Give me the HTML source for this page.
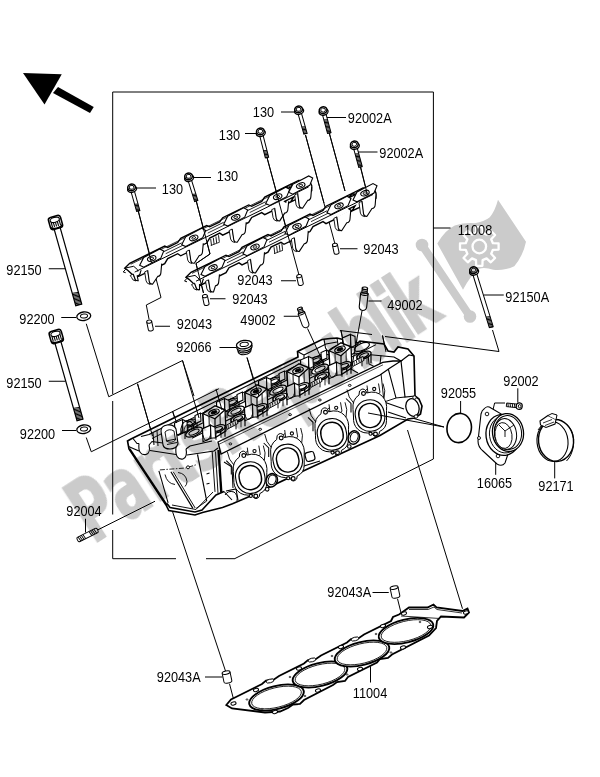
<!DOCTYPE html>
<html><head><meta charset="utf-8"><title>Cylinder Head</title>
<style>
html,body{margin:0;padding:0;background:#fff;}
body{width:600px;height:777px;overflow:hidden;}
svg{display:block;}
svg text{font-family:"Liberation Sans",sans-serif;}
</style></head><body>
<svg width="600" height="777" viewBox="0 0 600 777">
<rect width="600" height="777" fill="#fff"/>
<path d="M23,73 L61.75,74.25 L44.5,104.5 Z" fill="#000"/>
<path d="M58,87 L93.75,107 L90,113 L53,93 Z" fill="#000"/>
<path d="M112.70,92.00 L433.40,92.00" stroke="#000" stroke-width="1" fill="none"/>
<path d="M112.70,92.00 L112.70,394.00" stroke="#000" stroke-width="1" fill="none"/>
<path d="M112.70,401.00 L112.70,514.50" stroke="#000" stroke-width="1" fill="none"/>
<path d="M112.70,530.00 L112.70,558.70" stroke="#000" stroke-width="1" fill="none"/>
<path d="M433.40,92.00 L433.40,459.00" stroke="#000" stroke-width="1" fill="none"/>
<path d="M433.40,459.00 L235.00,558.50" stroke="#000" stroke-width="1" fill="none"/>
<path d="M112.70,558.70 L176.00,558.70" stroke="#000" stroke-width="1" fill="none"/>
<path d="M206.00,558.70 L235.00,558.70" stroke="#000" stroke-width="1" fill="none"/>
<g opacity="0.999">
<text transform="translate(161.80,194.00) scale(0.91,1)" font-size="14">130</text>
<text transform="translate(216.80,181.00) scale(0.91,1)" font-size="14">130</text>
<text transform="translate(218.80,140.00) scale(0.91,1)" font-size="14">130</text>
<text transform="translate(252.80,117.00) scale(0.91,1)" font-size="14">130</text>
<text transform="translate(347.80,122.50) scale(0.91,1)" font-size="14">92002A</text>
<text transform="translate(379.30,157.80) scale(0.91,1)" font-size="14">92002A</text>
<text transform="translate(457.80,234.50) scale(0.91,1)" font-size="14">11008</text>
<text transform="translate(363.30,253.50) scale(0.91,1)" font-size="14">92043</text>
<text transform="translate(237.30,284.50) scale(0.91,1)" font-size="14">92043</text>
<text transform="translate(232.30,303.50) scale(0.91,1)" font-size="14">92043</text>
<text transform="translate(176.80,329.00) scale(0.91,1)" font-size="14">92043</text>
<text transform="translate(240.30,324.50) scale(0.91,1)" font-size="14">49002</text>
<text transform="translate(387.30,309.50) scale(0.91,1)" font-size="14">49002</text>
<text transform="translate(176.30,352.00) scale(0.91,1)" font-size="14">92066</text>
<text transform="translate(6.30,275.00) scale(0.91,1)" font-size="14">92150</text>
<text transform="translate(19.30,323.50) scale(0.91,1)" font-size="14">92200</text>
<text transform="translate(6.30,387.50) scale(0.91,1)" font-size="14">92150</text>
<text transform="translate(19.80,439.00) scale(0.91,1)" font-size="14">92200</text>
<text transform="translate(66.30,516.00) scale(0.91,1)" font-size="14">92004</text>
<text transform="translate(440.80,397.50) scale(0.91,1)" font-size="14">92055</text>
<text transform="translate(503.30,386.00) scale(0.91,1)" font-size="14">92002</text>
<text transform="translate(476.80,488.00) scale(0.91,1)" font-size="14">16065</text>
<text transform="translate(538.30,491.00) scale(0.91,1)" font-size="14">92171</text>
<text transform="translate(505.30,302.00) scale(0.91,1)" font-size="14">92150A</text>
<text transform="translate(156.80,682.00) scale(0.91,1)" font-size="14">92043A</text>
<text transform="translate(327.30,597.00) scale(0.91,1)" font-size="14">92043A</text>
<text transform="translate(352.80,697.50) scale(0.91,1)" font-size="14">11004</text>
</g>
<path d="M281.00,112.00 L294.50,112.00" stroke="#000" stroke-width="1" fill="none"/>
<path d="M326.00,117.50 L346.00,117.50" stroke="#000" stroke-width="1" fill="none"/>
<path d="M357.50,152.00 L377.50,152.00" stroke="#000" stroke-width="1" fill="none"/>
<path d="M433.40,228.00 L450.50,228.00" stroke="#000" stroke-width="1" fill="none"/>
<path d="M340.00,248.75 L357.50,248.75" stroke="#000" stroke-width="1" fill="none"/>
<path d="M281.00,280.75 L296.00,280.75" stroke="#000" stroke-width="1" fill="none"/>
<path d="M210.00,298.75 L225.50,298.75" stroke="#000" stroke-width="1" fill="none"/>
<path d="M155.00,326.25 L170.00,326.25" stroke="#000" stroke-width="1" fill="none"/>
<path d="M283.75,316.25 L298.75,316.25" stroke="#000" stroke-width="1" fill="none"/>
<path d="M219.50,347.50 L236.25,347.50" stroke="#000" stroke-width="1" fill="none"/>
<path d="M48.75,268.75 L65.50,268.75" stroke="#000" stroke-width="1" fill="none"/>
<path d="M61.25,317.50 L76.25,317.50" stroke="#000" stroke-width="1" fill="none"/>
<path d="M48.75,381.25 L65.50,381.25" stroke="#000" stroke-width="1" fill="none"/>
<path d="M62.00,430.50 L76.25,430.50" stroke="#000" stroke-width="1" fill="none"/>
<path d="M85.50,518.75 L85.50,532.50" stroke="#000" stroke-width="1" fill="none"/>
<path d="M460.60,401.00 L460.60,413.80" stroke="#000" stroke-width="1" fill="none"/>
<path d="M517.80,388.30 L517.80,402.50" stroke="#000" stroke-width="1" fill="none"/>
<path d="M495.70,459.70 L495.70,474.80" stroke="#000" stroke-width="1" fill="none"/>
<path d="M554.70,462.00 L554.70,478.40" stroke="#000" stroke-width="1" fill="none"/>
<path d="M483.75,295.00 L503.75,295.00" stroke="#000" stroke-width="1" fill="none"/>
<path d="M205.00,677.00 L222.50,677.00" stroke="#000" stroke-width="1" fill="none"/>
<path d="M372.50,592.50 L388.75,592.50" stroke="#000" stroke-width="1" fill="none"/>
<path d="M370.50,666.25 L370.50,682.50" stroke="#000" stroke-width="1" fill="none"/>
<path d="M138.25,211.00 L161.00,297.50 L146.30,305.00 L149.00,319.00" fill="none" stroke="#000" stroke-width="1.0" />
<path d="M196.25,201.00 L210.00,254.00 L196.00,263.50 L203.50,293.00" fill="none" stroke="#000" stroke-width="1.0" />
<path d="M267.00,157.50 L299.00,275.00" fill="none" stroke="#000" stroke-width="1.0" />
<path d="M305.50,135.00 L335.00,244.00" fill="none" stroke="#000" stroke-width="1.0" />
<path d="M329.25,133.00 L345.00,191.00" fill="none" stroke="#000" stroke-width="1.0" />
<path d="M360.50,167.00 L367.50,195.00" fill="none" stroke="#000" stroke-width="1.0" />
<path d="M86.25,323.75 L108.75,396.75 L182.50,360.50 L194.00,396.00" fill="none" stroke="#000" stroke-width="1.0" />
<path d="M137.50,383.75 L152.50,436.00" fill="none" stroke="#000" stroke-width="1.0" />
<path d="M86.25,437.50 L91.25,451.75 L218.75,388.75" fill="none" stroke="#000" stroke-width="1.0" />
<path d="M172.50,411.00 L176.00,422.50" fill="none" stroke="#000" stroke-width="1.0" />
<path d="M97.50,530.00 L155.00,501.25" fill="none" stroke="#000" stroke-width="1.0" />
<path d="M171.00,507.00 L225.50,671.00" fill="none" stroke="#000" stroke-width="1.0" />
<path d="M229.50,683.75 L233.75,700.00" fill="none" stroke="#000" stroke-width="1.0" />
<path d="M407.50,430.00 L462.50,608.75" fill="none" stroke="#000" stroke-width="1.0" />
<path d="M397.50,598.75 L401.25,613.75" fill="none" stroke="#000" stroke-width="1.0" />
<path d="M492.50,330.00 L499.00,351.50 L385.00,336.50" fill="none" stroke="#000" stroke-width="1.0" />
<path d="M372.00,334.50 L340.00,330.50" fill="none" stroke="#000" stroke-width="1.0" />
<path d="M341.00,330.50 L344.00,346.00" fill="none" stroke="#000" stroke-width="1.0" />
<path d="M382.50,335.50 L386.00,352.00" fill="none" stroke="#000" stroke-width="1.0" />
<path d="M247.00,357.50 L256.25,390.00" fill="none" stroke="#000" stroke-width="1.0" />
<path d="M405.00,416.00 L444.00,427.00" fill="none" stroke="#000" stroke-width="1.0" />
<path d="M505.00,403.00 L494.60,403.00 L491.80,415.00" fill="none" stroke="#000" stroke-width="1.0" />
<g transform="translate(131.75,188.00) rotate(-15.78)" fill="#fff" stroke="#000" stroke-width="1">
<rect x="-1.70" y="2" width="3.40" height="21.90"/>
<path d="M-1.70,16.40 L1.70,17.20" stroke-width="0.9"/>
<path d="M-1.70,17.75 L1.70,18.55" stroke-width="0.9"/>
<path d="M-1.70,19.10 L1.70,19.90" stroke-width="0.9"/>
<path d="M-1.70,20.45 L1.70,21.25" stroke-width="0.9"/>
<path d="M-1.70,21.80 L1.70,22.60" stroke-width="0.9"/>
<path d="M-1.70,23.15 L1.70,23.95" stroke-width="0.9"/>
<ellipse cx="0" cy="1.2" rx="4.6" ry="3.2" stroke-width="1.3"/>
<ellipse cx="0" cy="-0.6" rx="3.9" ry="3.3" stroke-width="1.5"/>
<path d="M-2.2,-1.8 L0,-2.8 L2.2,-1.8 L2.2,0.4 L0,1.4 L-2.2,0.4 Z" stroke-width="0.9"/>
</g>
<g transform="translate(188.75,177.00) rotate(-17.35)" fill="#fff" stroke="#000" stroke-width="1">
<rect x="-1.70" y="2" width="3.40" height="23.14"/>
<path d="M-1.70,17.64 L1.70,18.44" stroke-width="0.9"/>
<path d="M-1.70,18.99 L1.70,19.79" stroke-width="0.9"/>
<path d="M-1.70,20.34 L1.70,21.14" stroke-width="0.9"/>
<path d="M-1.70,21.69 L1.70,22.49" stroke-width="0.9"/>
<path d="M-1.70,23.04 L1.70,23.84" stroke-width="0.9"/>
<path d="M-1.70,24.39 L1.70,25.19" stroke-width="0.9"/>
<ellipse cx="0" cy="1.2" rx="4.6" ry="3.2" stroke-width="1.3"/>
<ellipse cx="0" cy="-0.6" rx="3.9" ry="3.3" stroke-width="1.5"/>
<path d="M-2.2,-1.8 L0,-2.8 L2.2,-1.8 L2.2,0.4 L0,1.4 L-2.2,0.4 Z" stroke-width="0.9"/>
</g>
<g transform="translate(260.50,132.00) rotate(-14.30)" fill="#fff" stroke="#000" stroke-width="1">
<rect x="-1.70" y="2" width="3.40" height="24.32"/>
<path d="M-1.70,18.82 L1.70,19.62" stroke-width="0.9"/>
<path d="M-1.70,20.17 L1.70,20.97" stroke-width="0.9"/>
<path d="M-1.70,21.52 L1.70,22.32" stroke-width="0.9"/>
<path d="M-1.70,22.87 L1.70,23.67" stroke-width="0.9"/>
<path d="M-1.70,24.22 L1.70,25.02" stroke-width="0.9"/>
<path d="M-1.70,25.57 L1.70,26.37" stroke-width="0.9"/>
<ellipse cx="0" cy="1.2" rx="4.6" ry="3.2" stroke-width="1.3"/>
<ellipse cx="0" cy="-0.6" rx="3.9" ry="3.3" stroke-width="1.5"/>
<path d="M-2.2,-1.8 L0,-2.8 L2.2,-1.8 L2.2,0.4 L0,1.4 L-2.2,0.4 Z" stroke-width="0.9"/>
</g>
<g transform="translate(298.75,110.00) rotate(-15.87)" fill="#fff" stroke="#000" stroke-width="1">
<rect x="-1.70" y="2" width="3.40" height="22.69"/>
<path d="M-1.70,17.19 L1.70,17.99" stroke-width="0.9"/>
<path d="M-1.70,18.54 L1.70,19.34" stroke-width="0.9"/>
<path d="M-1.70,19.89 L1.70,20.69" stroke-width="0.9"/>
<path d="M-1.70,21.24 L1.70,22.04" stroke-width="0.9"/>
<path d="M-1.70,22.59 L1.70,23.39" stroke-width="0.9"/>
<path d="M-1.70,23.94 L1.70,24.74" stroke-width="0.9"/>
<ellipse cx="0" cy="1.2" rx="4.6" ry="3.2" stroke-width="1.3"/>
<ellipse cx="0" cy="-0.6" rx="3.9" ry="3.3" stroke-width="1.5"/>
<path d="M-2.2,-1.8 L0,-2.8 L2.2,-1.8 L2.2,0.4 L0,1.4 L-2.2,0.4 Z" stroke-width="0.9"/>
</g>
<g transform="translate(323.25,110.75) rotate(-15.09)" fill="#fff" stroke="#000" stroke-width="1">
<rect x="-1.80" y="2" width="3.60" height="21.04"/>
<path d="M-1.80,9.04 L1.80,9.84" stroke-width="0.9"/>
<path d="M-1.80,10.39 L1.80,11.19" stroke-width="0.9"/>
<path d="M-1.80,11.74 L1.80,12.54" stroke-width="0.9"/>
<path d="M-1.80,13.09 L1.80,13.89" stroke-width="0.9"/>
<path d="M-1.80,14.44 L1.80,15.24" stroke-width="0.9"/>
<path d="M-1.80,15.79 L1.80,16.59" stroke-width="0.9"/>
<path d="M-1.80,17.14 L1.80,17.94" stroke-width="0.9"/>
<path d="M-1.80,18.49 L1.80,19.29" stroke-width="0.9"/>
<path d="M-1.80,19.84 L1.80,20.64" stroke-width="0.9"/>
<path d="M-1.80,21.19 L1.80,21.99" stroke-width="0.9"/>
<path d="M-1.80,22.54 L1.80,23.34" stroke-width="0.9"/>
<ellipse cx="0" cy="1.2" rx="4.6" ry="3.2" stroke-width="1.3"/>
<ellipse cx="0" cy="-0.6" rx="3.9" ry="3.3" stroke-width="1.5"/>
<path d="M-2.2,-1.8 L0,-2.8 L2.2,-1.8 L2.2,0.4 L0,1.4 L-2.2,0.4 Z" stroke-width="0.9"/>
</g>
<g transform="translate(354.50,145.00) rotate(-15.26)" fill="#fff" stroke="#000" stroke-width="1">
<rect x="-1.80" y="2" width="3.60" height="20.80"/>
<path d="M-1.80,8.80 L1.80,9.60" stroke-width="0.9"/>
<path d="M-1.80,10.15 L1.80,10.95" stroke-width="0.9"/>
<path d="M-1.80,11.50 L1.80,12.30" stroke-width="0.9"/>
<path d="M-1.80,12.85 L1.80,13.65" stroke-width="0.9"/>
<path d="M-1.80,14.20 L1.80,15.00" stroke-width="0.9"/>
<path d="M-1.80,15.55 L1.80,16.35" stroke-width="0.9"/>
<path d="M-1.80,16.90 L1.80,17.70" stroke-width="0.9"/>
<path d="M-1.80,18.25 L1.80,19.05" stroke-width="0.9"/>
<path d="M-1.80,19.60 L1.80,20.40" stroke-width="0.9"/>
<path d="M-1.80,20.95 L1.80,21.75" stroke-width="0.9"/>
<path d="M-1.80,22.30 L1.80,23.10" stroke-width="0.9"/>
<ellipse cx="0" cy="1.2" rx="4.6" ry="3.2" stroke-width="1.3"/>
<ellipse cx="0" cy="-0.6" rx="3.9" ry="3.3" stroke-width="1.5"/>
<path d="M-2.2,-1.8 L0,-2.8 L2.2,-1.8 L2.2,0.4 L0,1.4 L-2.2,0.4 Z" stroke-width="0.9"/>
</g>
<g transform="translate(55.50,222.50) rotate(-15.74)" fill="#fff" stroke="#000" stroke-width="1.2">
<rect x="-3.10" y="5.75" width="6.20" height="79.96"/>
<path d="M-3.10,72.71 L3.10,73.51" stroke-width="0.9"/>
<path d="M-3.10,74.06 L3.10,74.86" stroke-width="0.9"/>
<path d="M-3.10,75.41 L3.10,76.21" stroke-width="0.9"/>
<path d="M-3.10,76.76 L3.10,77.56" stroke-width="0.9"/>
<path d="M-3.10,78.11 L3.10,78.91" stroke-width="0.9"/>
<path d="M-3.10,79.46 L3.10,80.26" stroke-width="0.9"/>
<path d="M-3.10,80.81 L3.10,81.61" stroke-width="0.9"/>
<path d="M-3.10,82.16 L3.10,82.96" stroke-width="0.9"/>
<path d="M-3.10,83.51 L3.10,84.31" stroke-width="0.9"/>
<path d="M-3.10,84.86 L3.10,85.66" stroke-width="0.9"/>
<rect x="-6.25" y="-6.25" width="12.50" height="12.50" rx="2.75" stroke-width="1.56"/>
<path d="M-4.17,-1.25 L-4.17,4.00" stroke-width="1.08"/>
<path d="M-2.08,-1.25 L-2.08,4.00" stroke-width="1.08"/>
<path d="M0.00,-1.25 L0.00,4.00" stroke-width="1.08"/>
<path d="M2.08,-1.25 L2.08,4.00" stroke-width="1.08"/>
<path d="M4.17,-1.25 L4.17,4.00" stroke-width="1.08"/>
<ellipse cx="0" cy="-2.75" rx="4.75" ry="2.50" stroke-width="1.2"/>
<path d="M-6.25,3.75 Q0,7.75 6.25,3.75" fill="none" stroke-width="1.44"/>
</g>
<g transform="translate(56.25,336.50) rotate(-15.88)" fill="#fff" stroke="#000" stroke-width="1.2">
<rect x="-3.10" y="5.75" width="6.20" height="81.06"/>
<path d="M-3.10,73.81 L3.10,74.61" stroke-width="0.9"/>
<path d="M-3.10,75.16 L3.10,75.96" stroke-width="0.9"/>
<path d="M-3.10,76.51 L3.10,77.31" stroke-width="0.9"/>
<path d="M-3.10,77.86 L3.10,78.66" stroke-width="0.9"/>
<path d="M-3.10,79.21 L3.10,80.01" stroke-width="0.9"/>
<path d="M-3.10,80.56 L3.10,81.36" stroke-width="0.9"/>
<path d="M-3.10,81.91 L3.10,82.71" stroke-width="0.9"/>
<path d="M-3.10,83.26 L3.10,84.06" stroke-width="0.9"/>
<path d="M-3.10,84.61 L3.10,85.41" stroke-width="0.9"/>
<path d="M-3.10,85.96 L3.10,86.76" stroke-width="0.9"/>
<rect x="-6.25" y="-6.25" width="12.50" height="12.50" rx="2.75" stroke-width="1.56"/>
<path d="M-4.17,-1.25 L-4.17,4.00" stroke-width="1.08"/>
<path d="M-2.08,-1.25 L-2.08,4.00" stroke-width="1.08"/>
<path d="M0.00,-1.25 L0.00,4.00" stroke-width="1.08"/>
<path d="M2.08,-1.25 L2.08,4.00" stroke-width="1.08"/>
<path d="M4.17,-1.25 L4.17,4.00" stroke-width="1.08"/>
<ellipse cx="0" cy="-2.75" rx="4.75" ry="2.50" stroke-width="1.2"/>
<path d="M-6.25,3.75 Q0,7.75 6.25,3.75" fill="none" stroke-width="1.44"/>
</g>
<g transform="translate(473.75,270.75) rotate(-17.28)" fill="#fff" stroke="#000" stroke-width="1">
<rect x="-2.00" y="2" width="4.00" height="56.91"/>
<path d="M-2.00,47.91 L2.00,48.71" stroke-width="0.9"/>
<path d="M-2.00,49.26 L2.00,50.06" stroke-width="0.9"/>
<path d="M-2.00,50.61 L2.00,51.41" stroke-width="0.9"/>
<path d="M-2.00,51.96 L2.00,52.76" stroke-width="0.9"/>
<path d="M-2.00,53.31 L2.00,54.11" stroke-width="0.9"/>
<path d="M-2.00,54.66 L2.00,55.46" stroke-width="0.9"/>
<path d="M-2.00,56.01 L2.00,56.81" stroke-width="0.9"/>
<path d="M-2.00,57.36 L2.00,58.16" stroke-width="0.9"/>
<path d="M-2.00,58.71 L2.00,59.51" stroke-width="0.9"/>
<ellipse cx="0" cy="1.2" rx="4.6" ry="3.2" stroke-width="1.3"/>
<ellipse cx="0" cy="-0.6" rx="3.9" ry="3.3" stroke-width="1.5"/>
<path d="M-2.2,-1.8 L0,-2.8 L2.2,-1.8 L2.2,0.4 L0,1.4 L-2.2,0.4 Z" stroke-width="0.9"/>
</g>
<g transform="translate(335.75,248.75) rotate(-12)" fill="#fff" stroke="#000" stroke-width="1">
<path d="M-2.5,-4.0 L-2.5,4.0 A2.5,1.6 0 0 0 2.5,4.0 L2.5,-4.0"/>
<ellipse cx="0" cy="-4.0" rx="2.5" ry="1.6"/>
</g>
<g transform="translate(300.00,280.00) rotate(-12)" fill="#fff" stroke="#000" stroke-width="1">
<path d="M-2.5,-4.0 L-2.5,4.0 A2.5,1.6 0 0 0 2.5,4.0 L2.5,-4.0"/>
<ellipse cx="0" cy="-4.0" rx="2.5" ry="1.6"/>
</g>
<g transform="translate(205.75,300.00) rotate(-12)" fill="#fff" stroke="#000" stroke-width="1">
<path d="M-2.5,-4.0 L-2.5,4.0 A2.5,1.6 0 0 0 2.5,4.0 L2.5,-4.0"/>
<ellipse cx="0" cy="-4.0" rx="2.5" ry="1.6"/>
</g>
<g transform="translate(150.00,325.50) rotate(-12)" fill="#fff" stroke="#000" stroke-width="1">
<path d="M-2.5,-4.0 L-2.5,4.0 A2.5,1.6 0 0 0 2.5,4.0 L2.5,-4.0"/>
<ellipse cx="0" cy="-4.0" rx="2.5" ry="1.6"/>
</g>
<g transform="translate(227.00,677.00) rotate(-12)" fill="#fff" stroke="#000" stroke-width="1">
<path d="M-4.0,-4.5 L-4.0,4.5 A4.0,1.6 0 0 0 4.0,4.5 L4.0,-4.5"/>
<ellipse cx="0" cy="-4.5" rx="4.0" ry="1.6"/>
</g>
<g transform="translate(395.00,592.00) rotate(-12)" fill="#fff" stroke="#000" stroke-width="1">
<path d="M-4.0,-4.5 L-4.0,4.5 A4.0,1.6 0 0 0 4.0,4.5 L4.0,-4.5"/>
<ellipse cx="0" cy="-4.5" rx="4.0" ry="1.6"/>
</g>
<g transform="translate(83.75,316.25) rotate(-8)" fill="#fff" stroke="#000"><ellipse rx="7" ry="4.3" stroke-width="1.3"/><ellipse rx="3.6" ry="2" cx="0.3" cy="-0.2" stroke-width="1"/></g>
<g transform="translate(83.75,429.25) rotate(-8)" fill="#fff" stroke="#000"><ellipse rx="7" ry="4.3" stroke-width="1.3"/><ellipse rx="3.6" ry="2" cx="0.3" cy="-0.2" stroke-width="1"/></g>
<g transform="translate(77.5,540) rotate(-26.5)" fill="#fff" stroke="#000"><rect x="0" y="-2.5" width="22.5" height="5" rx="1.5"/>
<path d="M1.8,-2.5 l0.8,5 M14.0,-2.5 l0.8,5" stroke-width="0.9"/>
<path d="M3.6,-2.5 l0.8,5 M15.8,-2.5 l0.8,5" stroke-width="0.9"/>
<path d="M5.4,-2.5 l0.8,5 M17.6,-2.5 l0.8,5" stroke-width="0.9"/>
<path d="M7.2,-2.5 l0.8,5 M19.4,-2.5 l0.8,5" stroke-width="0.9"/>
</g>
<path d="M136.50,188.00 L156.00,188.00" stroke="#000" stroke-width="1" fill="none"/>
<path d="M194.00,177.50 L211.00,177.50" stroke="#000" stroke-width="1" fill="none"/>
<path d="M245.00,133.50 L256.00,133.50" stroke="#000" stroke-width="1" fill="none"/>
<path d="M210.70,239.06 L211.50,245.56" fill="none" stroke="#000" stroke-width="0.9" />
<path d="M213.30,237.79 L214.10,244.29" fill="none" stroke="#000" stroke-width="0.9" />
<path d="M215.90,236.51 L216.70,243.01" fill="none" stroke="#000" stroke-width="0.9" />
<path d="M218.50,235.24 L219.30,241.74" fill="none" stroke="#000" stroke-width="0.9" />
<path d="M210.70,245.56 L219.70,242.15" fill="none" stroke="#000" stroke-width="0.8" />
<path d="M124.70,268.20 L129.70,263.25 L164.70,246.10 L167.70,247.43 L177.70,242.53 L180.70,238.26 L206.70,225.52 L209.70,226.85 L219.70,221.95 L222.70,217.68 L248.70,204.94 L251.70,206.27 L261.70,201.37 L264.70,197.10 L290.70,184.36 L293.70,185.69 L284.70,190.10 L287.70,185.83 L298.70,180.34 L309.70,181.05 L311.70,185.57 L311.70,190.57 L307.70,194.03 L287.70,203.33 L284.70,201.30 L293.70,196.89 L290.70,201.86 L264.70,214.60 L261.70,212.57 L251.70,217.47 L248.70,222.44 L222.70,235.18 L219.70,233.15 L209.70,238.05 L206.70,243.02 L180.70,255.76 L177.70,253.73 L167.70,258.63 L164.70,263.60 L138.70,276.34 L133.70,275.79 L127.70,270.23Z" fill="#fff" stroke="#000" stroke-width="1.4" />
<path d="M130.70,264.26 L297.70,182.43" fill="none" stroke="#000" stroke-width="0.8" />
<path d="M134.70,272.10 L308.70,186.84" fill="none" stroke="#000" stroke-width="1.0" />
<path d="M163.70,251.69 L181.70,242.87" fill="none" stroke="#000" stroke-width="0.9" />
<path d="M165.70,253.71 L183.70,244.89" fill="none" stroke="#000" stroke-width="0.8" />
<path d="M205.70,231.11 L223.70,222.29" fill="none" stroke="#000" stroke-width="0.9" />
<path d="M207.70,233.13 L225.70,224.31" fill="none" stroke="#000" stroke-width="0.8" />
<path d="M247.70,210.53 L265.70,201.71" fill="none" stroke="#000" stroke-width="0.9" />
<path d="M249.70,212.55 L267.70,203.73" fill="none" stroke="#000" stroke-width="0.8" />
<path d="M124.70,268.20 L133.70,266.29 L137.70,269.83 L138.70,275.34" fill="none" stroke="#000" stroke-width="1.0" />
<path d="M125.70,269.21 L123.20,271.94 L125.70,272.71" fill="none" stroke="#000" stroke-width="1.0" />
<path d="M139.70,265.35 L143.70,257.39 L159.70,248.95 L163.70,251.09 L160.70,258.36 L143.70,267.19Z" fill="#fff" stroke="#000" stroke-width="1.1" />
<ellipse cx="151.7" cy="258.5" rx="4.4" ry="2.5" transform="rotate(-20 151.7 258.5)" fill="#fff" stroke="#000" stroke-width="1.1"/>
<ellipse cx="151.7" cy="258.5" rx="2.0" ry="1.1" transform="rotate(-20 151.7 258.5)" fill="#fff" stroke="#000" stroke-width="0.9"/>
<path d="M181.70,244.77 L185.70,236.81 L201.70,228.37 L205.70,230.51 L202.70,237.78 L185.70,246.61Z" fill="#fff" stroke="#000" stroke-width="1.1" />
<ellipse cx="193.7" cy="237.9" rx="4.4" ry="2.5" transform="rotate(-20 193.7 237.9)" fill="#fff" stroke="#000" stroke-width="1.1"/>
<ellipse cx="193.7" cy="237.9" rx="2.0" ry="1.1" transform="rotate(-20 193.7 237.9)" fill="#fff" stroke="#000" stroke-width="0.9"/>
<path d="M223.70,224.19 L227.70,216.23 L243.70,207.79 L247.70,209.93 L244.70,217.20 L227.70,226.03Z" fill="#fff" stroke="#000" stroke-width="1.1" />
<ellipse cx="235.7" cy="217.3" rx="4.4" ry="2.5" transform="rotate(-20 235.7 217.3)" fill="#fff" stroke="#000" stroke-width="1.1"/>
<ellipse cx="235.7" cy="217.3" rx="2.0" ry="1.1" transform="rotate(-20 235.7 217.3)" fill="#fff" stroke="#000" stroke-width="0.9"/>
<path d="M265.70,203.61 L269.70,195.65 L285.70,187.21 L289.70,189.35 L286.70,196.62 L269.70,205.45Z" fill="#fff" stroke="#000" stroke-width="1.1" />
<ellipse cx="277.7" cy="196.7" rx="4.4" ry="2.5" transform="rotate(-20 277.7 196.7)" fill="#fff" stroke="#000" stroke-width="1.1"/>
<ellipse cx="277.7" cy="196.7" rx="2.0" ry="1.1" transform="rotate(-20 277.7 196.7)" fill="#fff" stroke="#000" stroke-width="0.9"/>
<path d="M288.70,192.34 L292.70,184.38 L308.70,175.94 L312.70,178.08 L309.70,185.35 L292.70,194.18Z" fill="#fff" stroke="#000" stroke-width="1.1" />
<ellipse cx="300.7" cy="185.5" rx="4.4" ry="2.5" transform="rotate(-20 300.7 185.5)" fill="#fff" stroke="#000" stroke-width="1.1"/>
<ellipse cx="300.7" cy="185.5" rx="2.0" ry="1.1" transform="rotate(-20 300.7 185.5)" fill="#fff" stroke="#000" stroke-width="0.9"/>
<path d="M130.2,275.5 L131.6,277.5 Q132.2,280.5 135.7,281.0 L133.2,274.0 Z" fill="#fff" stroke="#000" stroke-width="0.9"/>
<path d="M133.2,274.0 L134.7,278.0 Q135.2,281.0 138.2,280.7 L137.2,275.9 Q140.2,275.6 140.4,272.1 L141.2,270.1" fill="#fff" stroke="#000" stroke-width="1.1"/>
<path d="M144.7,271.9 L146.1,280.9 Q146.7,283.9 150.2,284.4 L147.7,270.4 Z" fill="#fff" stroke="#000" stroke-width="0.9"/>
<path d="M147.7,270.4 L149.2,281.4 Q149.7,284.4 152.7,284.1 L157.7,276.4 Q160.7,276.1 160.9,272.6 L161.7,263.6" fill="#fff" stroke="#000" stroke-width="1.1"/>
<path d="M186.3,251.5 L187.7,260.0 Q188.3,263.0 191.8,263.5 L189.3,250.0 Z" fill="#fff" stroke="#000" stroke-width="0.9"/>
<path d="M189.3,250.0 L190.8,260.5 Q191.3,263.5 194.3,263.2 L199.3,255.5 Q202.3,255.2 202.5,251.7 L203.3,243.2" fill="#fff" stroke="#000" stroke-width="1.1"/>
<path d="M229.2,230.5 L230.6,239.0 Q231.2,242.0 234.7,242.5 L232.2,229.0 Z" fill="#fff" stroke="#000" stroke-width="0.9"/>
<path d="M232.2,229.0 L233.7,239.5 Q234.2,242.5 237.2,242.2 L242.2,234.5 Q245.2,234.2 245.4,230.7 L246.2,222.2" fill="#fff" stroke="#000" stroke-width="1.1"/>
<path d="M271.7,209.7 L273.1,217.7 Q273.7,220.7 277.2,221.2 L274.7,208.2 Z" fill="#fff" stroke="#000" stroke-width="0.9"/>
<path d="M274.7,208.2 L276.2,218.2 Q276.7,221.2 279.7,220.9 L284.7,213.1 Q287.7,212.8 287.9,209.3 L288.7,201.3" fill="#fff" stroke="#000" stroke-width="1.1"/>
<path d="M294.7,194.9 L296.1,204.9 Q296.7,207.9 300.2,208.4 L297.7,193.4 Z" fill="#fff" stroke="#000" stroke-width="0.9"/>
<path d="M297.7,193.4 L299.2,205.4 Q299.7,208.4 302.7,208.1 L307.7,200.4 Q310.7,200.1 310.9,196.6 L311.7,186.6" fill="#fff" stroke="#000" stroke-width="1.1"/>
<path d="M274.00,247.18 L274.80,253.68" fill="none" stroke="#000" stroke-width="0.9" />
<path d="M276.60,245.91 L277.40,252.41" fill="none" stroke="#000" stroke-width="0.9" />
<path d="M279.20,244.63 L280.00,251.13" fill="none" stroke="#000" stroke-width="0.9" />
<path d="M281.80,243.36 L282.60,249.86" fill="none" stroke="#000" stroke-width="0.9" />
<path d="M274.00,253.68 L283.00,250.27" fill="none" stroke="#000" stroke-width="0.8" />
<path d="M186.00,277.30 L191.00,272.35 L226.00,255.20 L229.00,256.53 L239.00,251.63 L242.00,247.36 L268.00,234.62 L271.00,235.95 L281.00,231.05 L284.00,226.78 L310.00,214.04 L313.00,215.37 L323.00,210.47 L326.00,206.20 L352.00,193.46 L355.00,194.79 L349.00,197.73 L352.00,193.46 L363.00,187.97 L374.00,188.68 L376.00,193.20 L376.00,198.20 L372.00,201.66 L352.00,210.96 L349.00,208.93 L355.00,205.99 L352.00,210.96 L326.00,223.70 L323.00,221.67 L313.00,226.57 L310.00,231.54 L284.00,244.28 L281.00,242.25 L271.00,247.15 L268.00,252.12 L242.00,264.86 L239.00,262.83 L229.00,267.73 L226.00,272.70 L200.00,285.44 L195.00,284.89 L189.00,279.33Z" fill="#fff" stroke="#000" stroke-width="1.4" />
<path d="M192.00,273.36 L362.00,190.06" fill="none" stroke="#000" stroke-width="0.8" />
<path d="M196.00,281.20 L373.00,194.47" fill="none" stroke="#000" stroke-width="1.0" />
<path d="M225.00,260.79 L243.00,251.97" fill="none" stroke="#000" stroke-width="0.9" />
<path d="M227.00,262.81 L245.00,253.99" fill="none" stroke="#000" stroke-width="0.8" />
<path d="M267.00,240.21 L285.00,231.39" fill="none" stroke="#000" stroke-width="0.9" />
<path d="M269.00,242.23 L287.00,233.41" fill="none" stroke="#000" stroke-width="0.8" />
<path d="M309.00,219.63 L327.00,210.81" fill="none" stroke="#000" stroke-width="0.9" />
<path d="M311.00,221.65 L329.00,212.83" fill="none" stroke="#000" stroke-width="0.8" />
<path d="M186.00,277.30 L195.00,275.39 L199.00,278.93 L200.00,284.44" fill="none" stroke="#000" stroke-width="1.0" />
<path d="M187.00,278.31 L184.50,281.04 L187.00,281.81" fill="none" stroke="#000" stroke-width="1.0" />
<path d="M201.00,274.45 L205.00,266.49 L221.00,258.05 L225.00,260.19 L222.00,267.46 L205.00,276.29Z" fill="#fff" stroke="#000" stroke-width="1.1" />
<ellipse cx="213.0" cy="267.6" rx="4.4" ry="2.5" transform="rotate(-20 213.0 267.6)" fill="#fff" stroke="#000" stroke-width="1.1"/>
<ellipse cx="213.0" cy="267.6" rx="2.0" ry="1.1" transform="rotate(-20 213.0 267.6)" fill="#fff" stroke="#000" stroke-width="0.9"/>
<path d="M243.00,253.87 L247.00,245.91 L263.00,237.47 L267.00,239.61 L264.00,246.88 L247.00,255.71Z" fill="#fff" stroke="#000" stroke-width="1.1" />
<ellipse cx="255.0" cy="247.0" rx="4.4" ry="2.5" transform="rotate(-20 255.0 247.0)" fill="#fff" stroke="#000" stroke-width="1.1"/>
<ellipse cx="255.0" cy="247.0" rx="2.0" ry="1.1" transform="rotate(-20 255.0 247.0)" fill="#fff" stroke="#000" stroke-width="0.9"/>
<path d="M285.00,233.29 L289.00,225.33 L305.00,216.89 L309.00,219.03 L306.00,226.30 L289.00,235.13Z" fill="#fff" stroke="#000" stroke-width="1.1" />
<ellipse cx="297.0" cy="226.4" rx="4.4" ry="2.5" transform="rotate(-20 297.0 226.4)" fill="#fff" stroke="#000" stroke-width="1.1"/>
<ellipse cx="297.0" cy="226.4" rx="2.0" ry="1.1" transform="rotate(-20 297.0 226.4)" fill="#fff" stroke="#000" stroke-width="0.9"/>
<path d="M327.00,212.71 L331.00,204.75 L347.00,196.31 L351.00,198.45 L348.00,205.72 L331.00,214.55Z" fill="#fff" stroke="#000" stroke-width="1.1" />
<ellipse cx="339.0" cy="205.8" rx="4.4" ry="2.5" transform="rotate(-20 339.0 205.8)" fill="#fff" stroke="#000" stroke-width="1.1"/>
<ellipse cx="339.0" cy="205.8" rx="2.0" ry="1.1" transform="rotate(-20 339.0 205.8)" fill="#fff" stroke="#000" stroke-width="0.9"/>
<path d="M353.00,199.97 L357.00,192.01 L373.00,183.57 L377.00,185.71 L374.00,192.98 L357.00,201.81Z" fill="#fff" stroke="#000" stroke-width="1.1" />
<ellipse cx="365.0" cy="193.1" rx="4.4" ry="2.5" transform="rotate(-20 365.0 193.1)" fill="#fff" stroke="#000" stroke-width="1.1"/>
<ellipse cx="365.0" cy="193.1" rx="2.0" ry="1.1" transform="rotate(-20 365.0 193.1)" fill="#fff" stroke="#000" stroke-width="0.9"/>
<path d="M191.5,284.6 L192.9,286.6 Q193.5,289.6 197.0,290.1 L194.5,283.1 Z" fill="#fff" stroke="#000" stroke-width="0.9"/>
<path d="M194.5,283.1 L196.0,287.1 Q196.5,290.1 199.5,289.8 L199.5,284.5 Q202.5,284.2 202.7,280.7 L203.5,278.7" fill="#fff" stroke="#000" stroke-width="1.1"/>
<path d="M205.5,281.3 L206.9,288.8 Q207.5,291.8 211.0,292.3 L208.5,279.8 Z" fill="#fff" stroke="#000" stroke-width="0.9"/>
<path d="M208.5,279.8 L210.0,289.3 Q210.5,292.3 213.5,292.0 L215.5,285.7 Q218.5,285.4 218.7,281.9 L219.5,274.4" fill="#fff" stroke="#000" stroke-width="1.1"/>
<path d="M247.5,260.7 L248.9,269.7 Q249.5,272.7 253.0,273.2 L250.5,259.2 Z" fill="#fff" stroke="#000" stroke-width="0.9"/>
<path d="M250.5,259.2 L252.0,270.2 Q252.5,273.2 255.5,272.9 L260.5,265.1 Q263.5,264.8 263.7,261.3 L264.5,252.3" fill="#fff" stroke="#000" stroke-width="1.1"/>
<path d="M291.3,239.2 L292.7,248.2 Q293.3,251.2 296.8,251.7 L294.3,237.7 Z" fill="#fff" stroke="#000" stroke-width="0.9"/>
<path d="M294.3,237.7 L295.8,248.7 Q296.3,251.7 299.3,251.4 L304.3,243.7 Q307.3,243.4 307.5,239.9 L308.3,230.9" fill="#fff" stroke="#000" stroke-width="1.1"/>
<path d="M333.8,218.4 L335.2,227.4 Q335.8,230.4 339.3,230.9 L336.8,216.9 Z" fill="#fff" stroke="#000" stroke-width="0.9"/>
<path d="M336.8,216.9 L338.3,227.9 Q338.8,230.9 341.8,230.6 L346.8,222.8 Q349.8,222.5 350.0,219.0 L350.8,210.0" fill="#fff" stroke="#000" stroke-width="1.1"/>
<path d="M359.0,202.6 L360.4,213.1 Q361.0,216.1 364.5,216.6 L362.0,201.1 Z" fill="#fff" stroke="#000" stroke-width="0.9"/>
<path d="M362.0,201.1 L363.5,213.6 Q364.0,216.6 367.0,216.3 L372.0,208.5 Q375.0,208.2 375.2,204.7 L376.0,194.2" fill="#fff" stroke="#000" stroke-width="1.1"/>
<path d="M138.25,211.00 L151.50,263.00" fill="none" stroke="#000" stroke-width="1.0" />
<path d="M196.25,201.00 L210.00,254.00 L196.00,263.50 L203.50,293.00" fill="none" stroke="#000" stroke-width="1.0" />
<path d="M267.00,157.50 L290.00,243.00" fill="none" stroke="#000" stroke-width="1.0" />
<path d="M305.50,135.00 L324.00,203.00" fill="none" stroke="#000" stroke-width="1.0" />
<path d="M329.25,133.00 L345.00,191.00" fill="none" stroke="#000" stroke-width="1.0" />
<path d="M360.50,167.00 L367.50,195.00" fill="none" stroke="#000" stroke-width="1.0" />
<path d="M127.50,441.00 L131.00,439.00 L298.00,357.00 L297.50,351.50 L322.00,339.50 L330.00,338.50 L337.00,338.00 L358.00,343.00 L360.00,341.00 L384.00,344.00 L388.00,351.00 L394.00,352.00 L398.00,347.00 L408.00,349.00 L414.00,356.00 L415.00,396.00 L419.00,399.00 L422.00,406.00 L420.50,414.00 L415.00,418.00 L408.00,419.00 L380.00,435.50 L300.00,472.50 L250.00,496.30 L232.50,503.80 L222.50,507.50 L202.50,512.50 L195.00,515.00 L168.80,510.50 L166.00,505.00 L129.00,449.00Z" fill="#fff" stroke="#000" stroke-width="1.65" />
<path d="M167.00,503.50 L170.00,507.50 L195.00,512.00 L202.00,510.00 L216.00,495.00 L224.00,491.50" fill="none" stroke="#000" stroke-width="1.53" />
<path d="M172.00,505.00 L196.00,509.50 L213.00,492.00" fill="none" stroke="#000" stroke-width="0.94" />
<path d="M224.00,491.50 L232.00,500.00" fill="none" stroke="#000" stroke-width="1.06" />
<path d="M129.60,448.80 L167.20,505.60" fill="none" stroke="#000" stroke-width="1.77" />
<path d="M158.90,470.80 L168.10,502.90" fill="none" stroke="#000" stroke-width="1.06" />
<path d="M170.90,471.70 L192.90,508.40" fill="none" stroke="#000" stroke-width="1.18" />
<path d="M173.20,471.70 L195.20,508.00" fill="none" stroke="#000" stroke-width="0.94" />
<path d="M159.90,469.90 L185.60,468.00 L197.00,464.50" fill="none" stroke="#000" stroke-width="0.83" stroke-dasharray="5 1.5 1.5 1.5"/>
<ellipse cx="188.0" cy="467.3" rx="1.5" ry="1.5" transform="rotate(0 188.0 467.3)" fill="#fff" stroke="#000" stroke-width="0.94"/>
<path d="M165,474.5 q2,9 10,10 M178,472.5 q8,1 9,9 q0,3 -2,5" fill="none" stroke="#000" stroke-width="0.9"/>
<path d="M197.50,454.30 L206.70,501.00" fill="none" stroke="#000" stroke-width="1.18" />
<path d="M212.20,451.50 L215.00,491.90" fill="none" stroke="#000" stroke-width="0.94" />
<path d="M206.50,473.90 L209.50,473.10" fill="none" stroke="#000" stroke-width="1.06" />
<path d="M206.50,484.00 L209.50,483.20" fill="none" stroke="#000" stroke-width="1.06" />
<path d="M206.70,501.00 L196.00,508.50" fill="none" stroke="#000" stroke-width="0.94" />
<path d="M128.50,446.50 L139.00,451.00" fill="none" stroke="#000" stroke-width="1.18" />
<path d="M139,443.5 C138,452 141,455.5 146,454.5 C149.5,453.5 150,449 149,445" fill="#fff" stroke="#000" stroke-width="1.1"/>
<path d="M150.00,450.50 L176.00,454.50" fill="none" stroke="#000" stroke-width="1.18" />
<path d="M176,447 C175,456 178,460 183,459 C186.5,458 187,453 186,449" fill="#fff" stroke="#000" stroke-width="1.1"/>
<path d="M187.00,455.00 L214.00,451.00 L218.00,448.00" fill="none" stroke="#000" stroke-width="1.18" />
<path d="M133.00,438.50 L137.00,443.50 L139.00,443.50" fill="none" stroke="#000" stroke-width="1.06" />
<path d="M149.00,445.00 L152.00,441.50 L170.00,444.00 L176.00,447.00" fill="none" stroke="#000" stroke-width="1.06" />
<path d="M186.00,449.00 L190.00,446.00 L212.00,441.00" fill="none" stroke="#000" stroke-width="1.06" />
<path d="M218.50,450.00 L221.30,492.50" fill="none" stroke="#000" stroke-width="2.36" />
<path d="M215.50,451.50 L218.00,493.50" fill="none" stroke="#000" stroke-width="0.94" />
<path d="M141.00,436.50 L149.00,434.50 L299.00,360.00 L304.00,361.00" fill="none" stroke="#000" stroke-width="1.18" />
<path d="M297.50,351.50 L304.00,355.00 L304.00,361.00" fill="none" stroke="#000" stroke-width="1.06" />
<path d="M304.00,355.00 L326.00,344.00 L337.00,342.00" fill="none" stroke="#000" stroke-width="1.06" />
<path d="M152.00,438.50 L296.00,366.00" fill="none" stroke="#000" stroke-width="0.94" />
<path d="M304.00,361.00 L309.00,361.00 L322.00,354.00 L331.00,355.00 L340.00,352.00 L348.00,357.00 L354.00,353.00 L368.00,354.50 L394.00,357.00 L401.00,361.00" fill="none" stroke="#000" stroke-width="1.18" />
<path d="M324.00,339.00 L325.50,348.00 L331.00,355.00" fill="none" stroke="#000" stroke-width="1.06" />
<path d="M337.00,338.00 L339.00,351.00" fill="none" stroke="#000" stroke-width="1.06" />
<path d="M360.00,341.00 L362.00,353.00" fill="none" stroke="#000" stroke-width="1.06" />
<path d="M348.00,357.00 L349.00,368.00 L358.00,373.00" fill="none" stroke="#000" stroke-width="1.06" />
<path d="M368.00,354.50 L369.00,364.00 L375.00,367.00 L380.00,364.00 L381.00,355.50" fill="none" stroke="#000" stroke-width="1.06" />
<path d="M401.00,361.00 L409.00,355.00 L414.00,356.00" fill="none" stroke="#000" stroke-width="1.18" />
<path d="M401.00,361.00 L405.00,397.00 L415.00,396.00" fill="none" stroke="#000" stroke-width="1.18" />
<path d="M388.00,368.00 L396.00,398.00 L405.00,397.00" fill="none" stroke="#000" stroke-width="1.06" />
<path d="M380.00,364.00 L384.00,402.00 L396.00,398.00" fill="none" stroke="#000" stroke-width="0.94" />
<ellipse cx="412.5" cy="407.5" rx="6.5" ry="9" transform="rotate(-15 412.5 407.5)" fill="#fff" stroke="#000" stroke-width="1.3"/>
<circle cx="414.5" cy="397.5" r="1.7" fill="#fff" stroke="#000" stroke-width="0.9"/>
<circle cx="416" cy="416.5" r="1.7" fill="#fff" stroke="#000" stroke-width="0.9"/>
<path d="M384.00,402.00 L404.00,409.00" fill="none" stroke="#000" stroke-width="1.06" />
<path d="M388.00,412.00 L406.00,418.00" fill="none" stroke="#000" stroke-width="1.06" />
<path d="M183.00,423.27 L183.00,432.27" fill="none" stroke="#000" stroke-width="1.18" />
<path d="M197.00,422.27 L197.00,431.27" fill="none" stroke="#000" stroke-width="1.18" />
<path d="M188.00,426.27 L188.00,434.27" fill="none" stroke="#000" stroke-width="0.94" />
<path d="M193.00,425.77 L193.00,432.27" fill="none" stroke="#000" stroke-width="0.83" />
<ellipse cx="190.0" cy="423.3" rx="7.5" ry="3.4" transform="rotate(-22 190.0 423.3)" fill="#fff" stroke="#000" stroke-width="1.3"/>
<ellipse cx="190.0" cy="423.6" rx="4.8" ry="2.0" transform="rotate(-22 190.0 423.6)" fill="#fff" stroke="#000" stroke-width="1.06"/>
<path d="M185.5,424.8 q4,2.5 9,-2.6 q-3,4.6 -9,2.6z" fill="#000" stroke="#000" stroke-width="0.6"/>
<path d="M203.00,412.73 L203.00,421.73" fill="none" stroke="#000" stroke-width="1.18" />
<path d="M217.00,411.73 L217.00,420.73" fill="none" stroke="#000" stroke-width="1.18" />
<path d="M208.00,415.73 L208.00,423.73" fill="none" stroke="#000" stroke-width="0.94" />
<path d="M213.00,415.23 L213.00,421.73" fill="none" stroke="#000" stroke-width="0.83" />
<ellipse cx="210.0" cy="412.7" rx="7.5" ry="3.4" transform="rotate(-22 210.0 412.7)" fill="#fff" stroke="#000" stroke-width="1.3"/>
<ellipse cx="210.0" cy="413.0" rx="4.8" ry="2.0" transform="rotate(-22 210.0 413.0)" fill="#fff" stroke="#000" stroke-width="1.06"/>
<path d="M205.5,414.2 q4,2.5 9,-2.6 q-3,4.6 -9,2.6z" fill="#000" stroke="#000" stroke-width="0.6"/>
<path d="M174.50,423.07 L175.00,436.07 L183.00,432.57 L182.50,419.57Z" fill="#fff" stroke="#000" stroke-width="1.18" />
<path d="M175.0,429.6 q1,6 4,5 q3.5,-1.5 3.7,-7.5" fill="none" stroke="#000" stroke-width="1"/>
<path d="M182.50,419.57 L187.00,421.57 L187.50,432.07 L183.00,432.57Z" fill="#fff" stroke="#000" stroke-width="1.06" />
<path d="M195.00,415.60 L195.50,423.60 L201.00,421.10 L200.50,413.10Z" fill="#fff" stroke="#000" stroke-width="1.06" />
<path d="M225.00,402.27 L225.00,411.27" fill="none" stroke="#000" stroke-width="1.18" />
<path d="M239.00,401.27 L239.00,410.27" fill="none" stroke="#000" stroke-width="1.18" />
<path d="M230.00,405.27 L230.00,413.27" fill="none" stroke="#000" stroke-width="0.94" />
<path d="M235.00,404.77 L235.00,411.27" fill="none" stroke="#000" stroke-width="0.83" />
<ellipse cx="232.0" cy="402.3" rx="7.5" ry="3.4" transform="rotate(-22 232.0 402.3)" fill="#fff" stroke="#000" stroke-width="1.3"/>
<ellipse cx="232.0" cy="402.6" rx="4.8" ry="2.0" transform="rotate(-22 232.0 402.6)" fill="#fff" stroke="#000" stroke-width="1.06"/>
<path d="M227.5,403.8 q4,2.5 9,-2.6 q-3,4.6 -9,2.6z" fill="#000" stroke="#000" stroke-width="0.6"/>
<path d="M245.00,391.73 L245.00,400.73" fill="none" stroke="#000" stroke-width="1.18" />
<path d="M259.00,390.73 L259.00,399.73" fill="none" stroke="#000" stroke-width="1.18" />
<path d="M250.00,394.73 L250.00,402.73" fill="none" stroke="#000" stroke-width="0.94" />
<path d="M255.00,394.23 L255.00,400.73" fill="none" stroke="#000" stroke-width="0.83" />
<ellipse cx="252.0" cy="391.7" rx="7.5" ry="3.4" transform="rotate(-22 252.0 391.7)" fill="#fff" stroke="#000" stroke-width="1.3"/>
<ellipse cx="252.0" cy="392.0" rx="4.8" ry="2.0" transform="rotate(-22 252.0 392.0)" fill="#fff" stroke="#000" stroke-width="1.06"/>
<path d="M247.5,393.2 q4,2.5 9,-2.6 q-3,4.6 -9,2.6z" fill="#000" stroke="#000" stroke-width="0.6"/>
<path d="M216.50,402.07 L217.00,415.07 L225.00,411.57 L224.50,398.57Z" fill="#fff" stroke="#000" stroke-width="1.18" />
<path d="M217.0,408.6 q1,6 4,5 q3.5,-1.5 3.7,-7.5" fill="none" stroke="#000" stroke-width="1"/>
<path d="M224.50,398.57 L229.00,400.57 L229.50,411.07 L225.00,411.57Z" fill="#fff" stroke="#000" stroke-width="1.06" />
<path d="M237.00,394.60 L237.50,402.60 L243.00,400.10 L242.50,392.10Z" fill="#fff" stroke="#000" stroke-width="1.06" />
<path d="M267.00,381.27 L267.00,390.27" fill="none" stroke="#000" stroke-width="1.18" />
<path d="M281.00,380.27 L281.00,389.27" fill="none" stroke="#000" stroke-width="1.18" />
<path d="M272.00,384.27 L272.00,392.27" fill="none" stroke="#000" stroke-width="0.94" />
<path d="M277.00,383.77 L277.00,390.27" fill="none" stroke="#000" stroke-width="0.83" />
<ellipse cx="274.0" cy="381.3" rx="7.5" ry="3.4" transform="rotate(-22 274.0 381.3)" fill="#fff" stroke="#000" stroke-width="1.3"/>
<ellipse cx="274.0" cy="381.6" rx="4.8" ry="2.0" transform="rotate(-22 274.0 381.6)" fill="#fff" stroke="#000" stroke-width="1.06"/>
<path d="M269.5,382.8 q4,2.5 9,-2.6 q-3,4.6 -9,2.6z" fill="#000" stroke="#000" stroke-width="0.6"/>
<path d="M287.00,370.73 L287.00,379.73" fill="none" stroke="#000" stroke-width="1.18" />
<path d="M301.00,369.73 L301.00,378.73" fill="none" stroke="#000" stroke-width="1.18" />
<path d="M292.00,373.73 L292.00,381.73" fill="none" stroke="#000" stroke-width="0.94" />
<path d="M297.00,373.23 L297.00,379.73" fill="none" stroke="#000" stroke-width="0.83" />
<ellipse cx="294.0" cy="370.7" rx="7.5" ry="3.4" transform="rotate(-22 294.0 370.7)" fill="#fff" stroke="#000" stroke-width="1.3"/>
<ellipse cx="294.0" cy="371.0" rx="4.8" ry="2.0" transform="rotate(-22 294.0 371.0)" fill="#fff" stroke="#000" stroke-width="1.06"/>
<path d="M289.5,372.2 q4,2.5 9,-2.6 q-3,4.6 -9,2.6z" fill="#000" stroke="#000" stroke-width="0.6"/>
<path d="M258.50,381.07 L259.00,394.07 L267.00,390.57 L266.50,377.57Z" fill="#fff" stroke="#000" stroke-width="1.18" />
<path d="M259.0,387.6 q1,6 4,5 q3.5,-1.5 3.7,-7.5" fill="none" stroke="#000" stroke-width="1"/>
<path d="M266.50,377.57 L271.00,379.57 L271.50,390.07 L267.00,390.57Z" fill="#fff" stroke="#000" stroke-width="1.06" />
<path d="M279.00,373.60 L279.50,381.60 L285.00,379.10 L284.50,371.10Z" fill="#fff" stroke="#000" stroke-width="1.06" />
<path d="M309.00,360.27 L309.00,369.27" fill="none" stroke="#000" stroke-width="1.18" />
<path d="M323.00,359.27 L323.00,368.27" fill="none" stroke="#000" stroke-width="1.18" />
<path d="M314.00,363.27 L314.00,371.27" fill="none" stroke="#000" stroke-width="0.94" />
<path d="M319.00,362.77 L319.00,369.27" fill="none" stroke="#000" stroke-width="0.83" />
<ellipse cx="316.0" cy="360.3" rx="7.5" ry="3.4" transform="rotate(-22 316.0 360.3)" fill="#fff" stroke="#000" stroke-width="1.3"/>
<ellipse cx="316.0" cy="360.6" rx="4.8" ry="2.0" transform="rotate(-22 316.0 360.6)" fill="#fff" stroke="#000" stroke-width="1.06"/>
<path d="M311.5,361.8 q4,2.5 9,-2.6 q-3,4.6 -9,2.6z" fill="#000" stroke="#000" stroke-width="0.6"/>
<path d="M329.00,349.73 L329.00,358.73" fill="none" stroke="#000" stroke-width="1.18" />
<path d="M343.00,348.73 L343.00,357.73" fill="none" stroke="#000" stroke-width="1.18" />
<path d="M334.00,352.73 L334.00,360.73" fill="none" stroke="#000" stroke-width="0.94" />
<path d="M339.00,352.23 L339.00,358.73" fill="none" stroke="#000" stroke-width="0.83" />
<ellipse cx="336.0" cy="349.7" rx="7.5" ry="3.4" transform="rotate(-22 336.0 349.7)" fill="#fff" stroke="#000" stroke-width="1.3"/>
<ellipse cx="336.0" cy="350.0" rx="4.8" ry="2.0" transform="rotate(-22 336.0 350.0)" fill="#fff" stroke="#000" stroke-width="1.06"/>
<path d="M331.5,351.2 q4,2.5 9,-2.6 q-3,4.6 -9,2.6z" fill="#000" stroke="#000" stroke-width="0.6"/>
<path d="M300.50,360.07 L301.00,373.07 L309.00,369.57 L308.50,356.57Z" fill="#fff" stroke="#000" stroke-width="1.18" />
<path d="M301.0,366.6 q1,6 4,5 q3.5,-1.5 3.7,-7.5" fill="none" stroke="#000" stroke-width="1"/>
<path d="M308.50,356.57 L313.00,358.57 L313.50,369.07 L309.00,369.57Z" fill="#fff" stroke="#000" stroke-width="1.06" />
<path d="M321.00,352.60 L321.50,360.60 L327.00,358.10 L326.50,350.10Z" fill="#fff" stroke="#000" stroke-width="1.06" />
<path d="M342.50,337.93 L343.00,350.93 L351.00,347.43 L350.50,334.43Z" fill="#fff" stroke="#000" stroke-width="1.18" />
<path d="M343.0,344.4 q1,6 4,5 q3.5,-1.5 3.7,-7.5" fill="none" stroke="#000" stroke-width="1"/>
<path d="M350.50,334.43 L355.00,336.43 L355.50,346.93 L351.00,347.43Z" fill="#fff" stroke="#000" stroke-width="1.06" />
<path d="M178.00,435.41 L358.00,343.95" fill="none" stroke="#000" stroke-width="1.06" />
<path d="M192.00,438.21 L376.00,344.64" fill="none" stroke="#000" stroke-width="1.06" />
<path d="M185.00,433.07 L185.00,439.07" fill="none" stroke="#000" stroke-width="1.06" />
<path d="M203.00,430.07 L203.00,437.07" fill="none" stroke="#000" stroke-width="1.06" />
<ellipse cx="194.0" cy="432.1" rx="9" ry="3.7" transform="rotate(-24 194.0 432.1)" fill="#fff" stroke="#000" stroke-width="1.3"/>
<ellipse cx="194.0" cy="432.1" rx="5.5" ry="2.1" transform="rotate(-24 194.0 432.1)" fill="#fff" stroke="#000" stroke-width="1.06"/>
<path d="M203.00,413.80 L204.00,431.80 L215.00,437.80 L226.00,430.80 L225.00,409.80 L215.00,405.80Z" fill="#fff" stroke="#000" stroke-width="1.3" />
<path d="M203.00,413.80 L215.00,418.80 L225.00,409.80" fill="none" stroke="#000" stroke-width="1.18" />
<path d="M215.00,418.80 L215.00,437.80" fill="none" stroke="#000" stroke-width="1.18" />
<path d="M209.00,416.30 L209.50,434.80" fill="none" stroke="#000" stroke-width="0.94" />
<path d="M220.00,414.30 L220.50,433.80" fill="none" stroke="#000" stroke-width="0.94" />
<ellipse cx="214.0" cy="412.3" rx="5.5" ry="2.6" transform="rotate(-20 214.0 412.3)" fill="#fff" stroke="#000" stroke-width="1.18"/>
<ellipse cx="214.0" cy="412.3" rx="3" ry="1.3" transform="rotate(-20 214.0 412.3)" fill="#000" stroke="#000" stroke-width="0.94"/>
<path d="M227.00,412.07 L227.00,418.07" fill="none" stroke="#000" stroke-width="1.06" />
<path d="M245.00,409.07 L245.00,416.07" fill="none" stroke="#000" stroke-width="1.06" />
<ellipse cx="236.0" cy="411.1" rx="9" ry="3.7" transform="rotate(-24 236.0 411.1)" fill="#fff" stroke="#000" stroke-width="1.3"/>
<ellipse cx="236.0" cy="411.1" rx="5.5" ry="2.1" transform="rotate(-24 236.0 411.1)" fill="#fff" stroke="#000" stroke-width="1.06"/>
<path d="M245.00,392.80 L246.00,410.80 L257.00,416.80 L268.00,409.80 L267.00,388.80 L257.00,384.80Z" fill="#fff" stroke="#000" stroke-width="1.3" />
<path d="M245.00,392.80 L257.00,397.80 L267.00,388.80" fill="none" stroke="#000" stroke-width="1.18" />
<path d="M257.00,397.80 L257.00,416.80" fill="none" stroke="#000" stroke-width="1.18" />
<path d="M251.00,395.30 L251.50,413.80" fill="none" stroke="#000" stroke-width="0.94" />
<path d="M262.00,393.30 L262.50,412.80" fill="none" stroke="#000" stroke-width="0.94" />
<ellipse cx="256.0" cy="391.3" rx="5.5" ry="2.6" transform="rotate(-20 256.0 391.3)" fill="#fff" stroke="#000" stroke-width="1.18"/>
<ellipse cx="256.0" cy="391.3" rx="3" ry="1.3" transform="rotate(-20 256.0 391.3)" fill="#000" stroke="#000" stroke-width="0.94"/>
<path d="M269.00,391.07 L269.00,397.07" fill="none" stroke="#000" stroke-width="1.06" />
<path d="M287.00,388.07 L287.00,395.07" fill="none" stroke="#000" stroke-width="1.06" />
<ellipse cx="278.0" cy="390.1" rx="9" ry="3.7" transform="rotate(-24 278.0 390.1)" fill="#fff" stroke="#000" stroke-width="1.3"/>
<ellipse cx="278.0" cy="390.1" rx="5.5" ry="2.1" transform="rotate(-24 278.0 390.1)" fill="#fff" stroke="#000" stroke-width="1.06"/>
<path d="M287.00,371.80 L288.00,389.80 L299.00,395.80 L310.00,388.80 L309.00,367.80 L299.00,363.80Z" fill="#fff" stroke="#000" stroke-width="1.3" />
<path d="M287.00,371.80 L299.00,376.80 L309.00,367.80" fill="none" stroke="#000" stroke-width="1.18" />
<path d="M299.00,376.80 L299.00,395.80" fill="none" stroke="#000" stroke-width="1.18" />
<path d="M293.00,374.30 L293.50,392.80" fill="none" stroke="#000" stroke-width="0.94" />
<path d="M304.00,372.30 L304.50,391.80" fill="none" stroke="#000" stroke-width="0.94" />
<ellipse cx="298.0" cy="370.3" rx="5.5" ry="2.6" transform="rotate(-20 298.0 370.3)" fill="#fff" stroke="#000" stroke-width="1.18"/>
<ellipse cx="298.0" cy="370.3" rx="3" ry="1.3" transform="rotate(-20 298.0 370.3)" fill="#000" stroke="#000" stroke-width="0.94"/>
<path d="M311.00,370.07 L311.00,376.07" fill="none" stroke="#000" stroke-width="1.06" />
<path d="M329.00,367.07 L329.00,374.07" fill="none" stroke="#000" stroke-width="1.06" />
<ellipse cx="320.0" cy="369.1" rx="9" ry="3.7" transform="rotate(-24 320.0 369.1)" fill="#fff" stroke="#000" stroke-width="1.3"/>
<ellipse cx="320.0" cy="369.1" rx="5.5" ry="2.1" transform="rotate(-24 320.0 369.1)" fill="#fff" stroke="#000" stroke-width="1.06"/>
<path d="M329.00,350.80 L330.00,368.80 L341.00,374.80 L352.00,367.80 L351.00,346.80 L341.00,342.80Z" fill="#fff" stroke="#000" stroke-width="1.3" />
<path d="M329.00,350.80 L341.00,355.80 L351.00,346.80" fill="none" stroke="#000" stroke-width="1.18" />
<path d="M341.00,355.80 L341.00,374.80" fill="none" stroke="#000" stroke-width="1.18" />
<path d="M335.00,353.30 L335.50,371.80" fill="none" stroke="#000" stroke-width="0.94" />
<path d="M346.00,351.30 L346.50,370.80" fill="none" stroke="#000" stroke-width="0.94" />
<ellipse cx="340.0" cy="349.3" rx="5.5" ry="2.6" transform="rotate(-20 340.0 349.3)" fill="#fff" stroke="#000" stroke-width="1.18"/>
<ellipse cx="340.0" cy="349.3" rx="3" ry="1.3" transform="rotate(-20 340.0 349.3)" fill="#000" stroke="#000" stroke-width="0.94"/>
<ellipse cx="362.0" cy="346.9" rx="8" ry="3.5" transform="rotate(-24 362.0 346.9)" fill="#fff" stroke="#000" stroke-width="1.18"/>
<path d="M211.00,428.87 L211.00,437.87" fill="none" stroke="#000" stroke-width="1.18" />
<path d="M225.00,427.87 L225.00,436.87" fill="none" stroke="#000" stroke-width="1.18" />
<path d="M216.00,431.87 L216.00,439.87" fill="none" stroke="#000" stroke-width="0.94" />
<path d="M221.00,431.37 L221.00,437.87" fill="none" stroke="#000" stroke-width="0.83" />
<ellipse cx="218.0" cy="428.9" rx="7.5" ry="3.4" transform="rotate(-22 218.0 428.9)" fill="#fff" stroke="#000" stroke-width="1.3"/>
<ellipse cx="218.0" cy="429.2" rx="4.8" ry="2.0" transform="rotate(-22 218.0 429.2)" fill="#fff" stroke="#000" stroke-width="1.06"/>
<path d="M213.5,430.4 q4,2.5 9,-2.6 q-3,4.6 -9,2.6z" fill="#000" stroke="#000" stroke-width="0.6"/>
<path d="M231.00,418.33 L231.00,427.33" fill="none" stroke="#000" stroke-width="1.18" />
<path d="M245.00,417.33 L245.00,426.33" fill="none" stroke="#000" stroke-width="1.18" />
<path d="M236.00,421.33 L236.00,429.33" fill="none" stroke="#000" stroke-width="0.94" />
<path d="M241.00,420.83 L241.00,427.33" fill="none" stroke="#000" stroke-width="0.83" />
<ellipse cx="238.0" cy="418.3" rx="7.5" ry="3.4" transform="rotate(-22 238.0 418.3)" fill="#fff" stroke="#000" stroke-width="1.3"/>
<ellipse cx="238.0" cy="418.6" rx="4.8" ry="2.0" transform="rotate(-22 238.0 418.6)" fill="#fff" stroke="#000" stroke-width="1.06"/>
<path d="M233.5,419.8 q4,2.5 9,-2.6 q-3,4.6 -9,2.6z" fill="#000" stroke="#000" stroke-width="0.6"/>
<path d="M202.50,428.67 L203.00,441.67 L211.00,438.17 L210.50,425.17Z" fill="#fff" stroke="#000" stroke-width="1.18" />
<path d="M203.0,435.2 q1,6 4,5 q3.5,-1.5 3.7,-7.5" fill="none" stroke="#000" stroke-width="1"/>
<path d="M210.50,425.17 L215.00,427.17 L215.50,437.67 L211.00,438.17Z" fill="#fff" stroke="#000" stroke-width="1.06" />
<path d="M226.00,425.40 L227.00,429.40 L238.00,423.40 L237.00,419.40Z" fill="#fff" stroke="#000" stroke-width="0.94" />
<path d="M228.00,424.90 L228.40,427.90" fill="none" stroke="#000" stroke-width="0.83" />
<path d="M230.40,423.70 L230.80,426.70" fill="none" stroke="#000" stroke-width="0.83" />
<path d="M232.80,422.50 L233.20,425.50" fill="none" stroke="#000" stroke-width="0.83" />
<path d="M235.20,421.30 L235.60,424.30" fill="none" stroke="#000" stroke-width="0.83" />
<path d="M253.00,407.87 L253.00,416.87" fill="none" stroke="#000" stroke-width="1.18" />
<path d="M267.00,406.87 L267.00,415.87" fill="none" stroke="#000" stroke-width="1.18" />
<path d="M258.00,410.87 L258.00,418.87" fill="none" stroke="#000" stroke-width="0.94" />
<path d="M263.00,410.37 L263.00,416.87" fill="none" stroke="#000" stroke-width="0.83" />
<ellipse cx="260.0" cy="407.9" rx="7.5" ry="3.4" transform="rotate(-22 260.0 407.9)" fill="#fff" stroke="#000" stroke-width="1.3"/>
<ellipse cx="260.0" cy="408.2" rx="4.8" ry="2.0" transform="rotate(-22 260.0 408.2)" fill="#fff" stroke="#000" stroke-width="1.06"/>
<path d="M255.5,409.4 q4,2.5 9,-2.6 q-3,4.6 -9,2.6z" fill="#000" stroke="#000" stroke-width="0.6"/>
<path d="M273.00,397.33 L273.00,406.33" fill="none" stroke="#000" stroke-width="1.18" />
<path d="M287.00,396.33 L287.00,405.33" fill="none" stroke="#000" stroke-width="1.18" />
<path d="M278.00,400.33 L278.00,408.33" fill="none" stroke="#000" stroke-width="0.94" />
<path d="M283.00,399.83 L283.00,406.33" fill="none" stroke="#000" stroke-width="0.83" />
<ellipse cx="280.0" cy="397.3" rx="7.5" ry="3.4" transform="rotate(-22 280.0 397.3)" fill="#fff" stroke="#000" stroke-width="1.3"/>
<ellipse cx="280.0" cy="397.6" rx="4.8" ry="2.0" transform="rotate(-22 280.0 397.6)" fill="#fff" stroke="#000" stroke-width="1.06"/>
<path d="M275.5,398.8 q4,2.5 9,-2.6 q-3,4.6 -9,2.6z" fill="#000" stroke="#000" stroke-width="0.6"/>
<path d="M244.50,407.67 L245.00,420.67 L253.00,417.17 L252.50,404.17Z" fill="#fff" stroke="#000" stroke-width="1.18" />
<path d="M245.0,414.2 q1,6 4,5 q3.5,-1.5 3.7,-7.5" fill="none" stroke="#000" stroke-width="1"/>
<path d="M252.50,404.17 L257.00,406.17 L257.50,416.67 L253.00,417.17Z" fill="#fff" stroke="#000" stroke-width="1.06" />
<path d="M268.00,404.40 L269.00,408.40 L280.00,402.40 L279.00,398.40Z" fill="#fff" stroke="#000" stroke-width="0.94" />
<path d="M270.00,403.90 L270.40,406.90" fill="none" stroke="#000" stroke-width="0.83" />
<path d="M272.40,402.70 L272.80,405.70" fill="none" stroke="#000" stroke-width="0.83" />
<path d="M274.80,401.50 L275.20,404.50" fill="none" stroke="#000" stroke-width="0.83" />
<path d="M277.20,400.30 L277.60,403.30" fill="none" stroke="#000" stroke-width="0.83" />
<path d="M295.00,386.87 L295.00,395.87" fill="none" stroke="#000" stroke-width="1.18" />
<path d="M309.00,385.87 L309.00,394.87" fill="none" stroke="#000" stroke-width="1.18" />
<path d="M300.00,389.87 L300.00,397.87" fill="none" stroke="#000" stroke-width="0.94" />
<path d="M305.00,389.37 L305.00,395.87" fill="none" stroke="#000" stroke-width="0.83" />
<ellipse cx="302.0" cy="386.9" rx="7.5" ry="3.4" transform="rotate(-22 302.0 386.9)" fill="#fff" stroke="#000" stroke-width="1.3"/>
<ellipse cx="302.0" cy="387.2" rx="4.8" ry="2.0" transform="rotate(-22 302.0 387.2)" fill="#fff" stroke="#000" stroke-width="1.06"/>
<path d="M297.5,388.4 q4,2.5 9,-2.6 q-3,4.6 -9,2.6z" fill="#000" stroke="#000" stroke-width="0.6"/>
<path d="M315.00,376.33 L315.00,385.33" fill="none" stroke="#000" stroke-width="1.18" />
<path d="M329.00,375.33 L329.00,384.33" fill="none" stroke="#000" stroke-width="1.18" />
<path d="M320.00,379.33 L320.00,387.33" fill="none" stroke="#000" stroke-width="0.94" />
<path d="M325.00,378.83 L325.00,385.33" fill="none" stroke="#000" stroke-width="0.83" />
<ellipse cx="322.0" cy="376.3" rx="7.5" ry="3.4" transform="rotate(-22 322.0 376.3)" fill="#fff" stroke="#000" stroke-width="1.3"/>
<ellipse cx="322.0" cy="376.6" rx="4.8" ry="2.0" transform="rotate(-22 322.0 376.6)" fill="#fff" stroke="#000" stroke-width="1.06"/>
<path d="M317.5,377.8 q4,2.5 9,-2.6 q-3,4.6 -9,2.6z" fill="#000" stroke="#000" stroke-width="0.6"/>
<path d="M286.50,386.67 L287.00,399.67 L295.00,396.17 L294.50,383.17Z" fill="#fff" stroke="#000" stroke-width="1.18" />
<path d="M287.0,393.2 q1,6 4,5 q3.5,-1.5 3.7,-7.5" fill="none" stroke="#000" stroke-width="1"/>
<path d="M294.50,383.17 L299.00,385.17 L299.50,395.67 L295.00,396.17Z" fill="#fff" stroke="#000" stroke-width="1.06" />
<path d="M310.00,383.40 L311.00,387.40 L322.00,381.40 L321.00,377.40Z" fill="#fff" stroke="#000" stroke-width="0.94" />
<path d="M312.00,382.90 L312.40,385.90" fill="none" stroke="#000" stroke-width="0.83" />
<path d="M314.40,381.70 L314.80,384.70" fill="none" stroke="#000" stroke-width="0.83" />
<path d="M316.80,380.50 L317.20,383.50" fill="none" stroke="#000" stroke-width="0.83" />
<path d="M319.20,379.30 L319.60,382.30" fill="none" stroke="#000" stroke-width="0.83" />
<path d="M337.00,365.87 L337.00,374.87" fill="none" stroke="#000" stroke-width="1.18" />
<path d="M351.00,364.87 L351.00,373.87" fill="none" stroke="#000" stroke-width="1.18" />
<path d="M342.00,368.87 L342.00,376.87" fill="none" stroke="#000" stroke-width="0.94" />
<path d="M347.00,368.37 L347.00,374.87" fill="none" stroke="#000" stroke-width="0.83" />
<ellipse cx="344.0" cy="365.9" rx="7.5" ry="3.4" transform="rotate(-22 344.0 365.9)" fill="#fff" stroke="#000" stroke-width="1.3"/>
<ellipse cx="344.0" cy="366.2" rx="4.8" ry="2.0" transform="rotate(-22 344.0 366.2)" fill="#fff" stroke="#000" stroke-width="1.06"/>
<path d="M339.5,367.4 q4,2.5 9,-2.6 q-3,4.6 -9,2.6z" fill="#000" stroke="#000" stroke-width="0.6"/>
<path d="M357.00,355.33 L357.00,364.33" fill="none" stroke="#000" stroke-width="1.18" />
<path d="M371.00,354.33 L371.00,363.33" fill="none" stroke="#000" stroke-width="1.18" />
<path d="M362.00,358.33 L362.00,366.33" fill="none" stroke="#000" stroke-width="0.94" />
<path d="M367.00,357.83 L367.00,364.33" fill="none" stroke="#000" stroke-width="0.83" />
<ellipse cx="364.0" cy="355.3" rx="7.5" ry="3.4" transform="rotate(-22 364.0 355.3)" fill="#fff" stroke="#000" stroke-width="1.3"/>
<ellipse cx="364.0" cy="355.6" rx="4.8" ry="2.0" transform="rotate(-22 364.0 355.6)" fill="#fff" stroke="#000" stroke-width="1.06"/>
<path d="M359.5,356.8 q4,2.5 9,-2.6 q-3,4.6 -9,2.6z" fill="#000" stroke="#000" stroke-width="0.6"/>
<path d="M328.50,365.67 L329.00,378.67 L337.00,375.17 L336.50,362.17Z" fill="#fff" stroke="#000" stroke-width="1.18" />
<path d="M329.0,372.2 q1,6 4,5 q3.5,-1.5 3.7,-7.5" fill="none" stroke="#000" stroke-width="1"/>
<path d="M336.50,362.17 L341.00,364.17 L341.50,374.67 L337.00,375.17Z" fill="#fff" stroke="#000" stroke-width="1.06" />
<path d="M352.00,362.40 L353.00,366.40 L364.00,360.40 L363.00,356.40Z" fill="#fff" stroke="#000" stroke-width="0.94" />
<path d="M354.00,361.90 L354.40,364.90" fill="none" stroke="#000" stroke-width="0.83" />
<path d="M356.40,360.70 L356.80,363.70" fill="none" stroke="#000" stroke-width="0.83" />
<path d="M358.80,359.50 L359.20,362.50" fill="none" stroke="#000" stroke-width="0.83" />
<path d="M361.20,358.30 L361.60,361.30" fill="none" stroke="#000" stroke-width="0.83" />
<path d="M161,431 q0,-5 6,-6 q7,-1 9,4 l2,15 q-2,5 -8,5 q-6,0 -7,-4 z" fill="#fff" stroke="#000" stroke-width="1.1"/>
<path d="M165,432 q4,-4 9,-1 l1.5,9 q-4,4 -9,1 z" fill="#fff" stroke="#000" stroke-width="0.9"/>
<path d="M166.00,441.00 L176.00,439.00" fill="none" stroke="#000" stroke-width="0.94" />
<path d="M167.00,444.50 L177.00,442.50" fill="none" stroke="#000" stroke-width="0.94" />
<path d="M181,434 q-1,-12 6,-13 q7,0 7,9" fill="none" stroke="#000" stroke-width="1.1"/>
<path d="M184,433 q0,-8 4,-8.5 q4,0 4,6" fill="none" stroke="#000" stroke-width="0.8"/>
<path d="M153.00,433.00 L154.00,445.00" fill="none" stroke="#000" stroke-width="1.06" />
<path d="M157.00,431.00 L158.00,446.00" fill="none" stroke="#000" stroke-width="0.94" />
<path d="M218.00,442.00 L382.70,362.30 L393.00,361.00 L401.00,361.00 L390.00,368.00 L380.00,375.00 L221.00,454.00Z" fill="#fff" stroke="#000" stroke-width="1.3" />
<path d="M218.50,444.50 L383.00,364.80" fill="none" stroke="#000" stroke-width="0.71" />
<ellipse cx="230.4" cy="443.9" rx="1.4" ry="1.0" transform="rotate(0 230.4 443.9)" fill="#fff" stroke="#000" stroke-width="0.94"/>
<ellipse cx="260.2" cy="429.3" rx="1.4" ry="1.0" transform="rotate(0 260.2 429.3)" fill="#fff" stroke="#000" stroke-width="0.94"/>
<ellipse cx="290.1" cy="414.7" rx="1.4" ry="1.0" transform="rotate(0 290.1 414.7)" fill="#fff" stroke="#000" stroke-width="0.94"/>
<ellipse cx="319.9" cy="400.0" rx="1.4" ry="1.0" transform="rotate(0 319.9 400.0)" fill="#fff" stroke="#000" stroke-width="0.94"/>
<ellipse cx="349.7" cy="385.4" rx="1.4" ry="1.0" transform="rotate(0 349.7 385.4)" fill="#fff" stroke="#000" stroke-width="0.94"/>
<path d="M234.3,465.6 q-6,-6 -7,-14 M264.3,460.6 q2,-8 -1,-15 M242.3,456.6 q6,-9 16,-9" fill="none" stroke="#000" stroke-width="0.9"/>
<path d="M226.30,460.60 L231.30,465.60 L231.30,474.60" fill="none" stroke="#000" stroke-width="1.06" />
<path d="M247.3,447.6 l1,8 l7,3 l5,-4 l-1.5,-9" fill="#fff" stroke="#000" stroke-width="0.9"/>
<ellipse cx="254.5" cy="451.1" rx="1.6" ry="1.6" transform="rotate(0 254.5 451.1)" fill="#fff" stroke="#000" stroke-width="1.06"/>
<path d="M271.7,448.0 q-6,-6 -7,-14 M301.7,443.0 q2,-8 -1,-15 M279.7,439.0 q6,-9 16,-9" fill="none" stroke="#000" stroke-width="0.9"/>
<path d="M263.70,443.00 L268.70,448.00 L268.70,457.00" fill="none" stroke="#000" stroke-width="1.06" />
<path d="M284.7,430.0 l1,8 l7,3 l5,-4 l-1.5,-9" fill="#fff" stroke="#000" stroke-width="0.9"/>
<ellipse cx="291.9" cy="433.5" rx="1.6" ry="1.6" transform="rotate(0 291.9 433.5)" fill="#fff" stroke="#000" stroke-width="1.06"/>
<path d="M316.0,422.3 q-6,-6 -7,-14 M346.0,417.3 q2,-8 -1,-15 M324.0,413.3 q6,-9 16,-9" fill="none" stroke="#000" stroke-width="0.9"/>
<path d="M308.00,417.30 L313.00,422.30 L313.00,431.30" fill="none" stroke="#000" stroke-width="1.06" />
<path d="M329.0,404.3 l1,8 l7,3 l5,-4 l-1.5,-9" fill="#fff" stroke="#000" stroke-width="0.9"/>
<ellipse cx="336.2" cy="407.8" rx="1.6" ry="1.6" transform="rotate(0 336.2 407.8)" fill="#fff" stroke="#000" stroke-width="1.06"/>
<path d="M354.0,403.5 q-6,-6 -7,-14 M384.0,398.5 q2,-8 -1,-15 M362.0,394.5 q6,-9 16,-9" fill="none" stroke="#000" stroke-width="0.9"/>
<path d="M346.00,398.50 L351.00,403.50 L351.00,412.50" fill="none" stroke="#000" stroke-width="1.06" />
<path d="M367.0,385.5 l1,8 l7,3 l5,-4 l-1.5,-9" fill="#fff" stroke="#000" stroke-width="0.9"/>
<ellipse cx="374.2" cy="389.0" rx="1.6" ry="1.6" transform="rotate(0 374.2 389.0)" fill="#fff" stroke="#000" stroke-width="1.06"/>
<path d="M224.00,462.00 L232.00,467.00 L233.00,488.00" fill="none" stroke="#000" stroke-width="1.06" />
<path d="M226.00,491.00 L236.00,489.00 L238.00,500.00" fill="none" stroke="#000" stroke-width="1.06" />
<path d="M225,495 q3,-5 9,-3 q4,3 3,9" fill="none" stroke="#000" stroke-width="1"/>
<path d="M300.00,472.50 L304.00,466.00 L320.00,461.00" fill="none" stroke="#000" stroke-width="1.06" />
<path d="M233.3,471.6 q-1,-10 6,-14.5 l0.5,-4 q3.5,-4 6.5,0 l0.5,2 q10,-3 16,3.5 q5,5.5 4,14 l0,10 q0,8 -7,11 l-0.5,3 q-3.5,4 -6.5,0 l-0.5,-2 q-9,2 -14.5,-3.5 q-4.5,-4.5 -4,-12 z" fill="#fff" stroke="#000" stroke-width="1"/>
<rect x="235.8" y="461.9" width="29" height="31.5" rx="14" transform="rotate(-12 250.3 477.6)" fill="#fff" stroke="#000" stroke-width="1.12"/>
<rect x="239.3" y="465.6" width="22" height="24" rx="10.5" transform="rotate(-12 250.3 477.6)" fill="#fff" stroke="#000" stroke-width="1.42"/>
<ellipse cx="243.8" cy="455.6" rx="1.9" ry="1.9" transform="rotate(0 243.8 455.6)" fill="#fff" stroke="#000" stroke-width="1.18"/>
<ellipse cx="255.8" cy="496.1" rx="1.9" ry="1.9" transform="rotate(0 255.8 496.1)" fill="#fff" stroke="#000" stroke-width="1.18"/>
<ellipse cx="250.8" cy="495.9" rx="1.5" ry="1.5" transform="rotate(0 250.8 495.9)" fill="#fff" stroke="#000" stroke-width="1.06"/>
<path d="M270.7,454.0 q-1,-10 6,-14.5 l0.5,-4 q3.5,-4 6.5,0 l0.5,2 q10,-3 16,3.5 q5,5.5 4,14 l0,10 q0,8 -7,11 l-0.5,3 q-3.5,4 -6.5,0 l-0.5,-2 q-9,2 -14.5,-3.5 q-4.5,-4.5 -4,-12 z" fill="#fff" stroke="#000" stroke-width="1"/>
<rect x="273.2" y="444.2" width="29" height="31.5" rx="14" transform="rotate(-12 287.7 460.0)" fill="#fff" stroke="#000" stroke-width="1.12"/>
<rect x="276.7" y="448.0" width="22" height="24" rx="10.5" transform="rotate(-12 287.7 460.0)" fill="#fff" stroke="#000" stroke-width="1.42"/>
<ellipse cx="281.2" cy="438.0" rx="1.9" ry="1.9" transform="rotate(0 281.2 438.0)" fill="#fff" stroke="#000" stroke-width="1.18"/>
<ellipse cx="293.2" cy="478.5" rx="1.9" ry="1.9" transform="rotate(0 293.2 478.5)" fill="#fff" stroke="#000" stroke-width="1.18"/>
<ellipse cx="288.2" cy="478.3" rx="1.5" ry="1.5" transform="rotate(0 288.2 478.3)" fill="#fff" stroke="#000" stroke-width="1.06"/>
<path d="M315.0,428.3 q-1,-10 6,-14.5 l0.5,-4 q3.5,-4 6.5,0 l0.5,2 q10,-3 16,3.5 q5,5.5 4,14 l0,10 q0,8 -7,11 l-0.5,3 q-3.5,4 -6.5,0 l-0.5,-2 q-9,2 -14.5,-3.5 q-4.5,-4.5 -4,-12 z" fill="#fff" stroke="#000" stroke-width="1"/>
<rect x="317.5" y="418.6" width="29" height="31.5" rx="14" transform="rotate(-12 332.0 434.3)" fill="#fff" stroke="#000" stroke-width="1.12"/>
<rect x="321.0" y="422.3" width="22" height="24" rx="10.5" transform="rotate(-12 332.0 434.3)" fill="#fff" stroke="#000" stroke-width="1.42"/>
<ellipse cx="325.5" cy="412.3" rx="1.9" ry="1.9" transform="rotate(0 325.5 412.3)" fill="#fff" stroke="#000" stroke-width="1.18"/>
<ellipse cx="337.5" cy="452.8" rx="1.9" ry="1.9" transform="rotate(0 337.5 452.8)" fill="#fff" stroke="#000" stroke-width="1.18"/>
<ellipse cx="332.5" cy="452.6" rx="1.5" ry="1.5" transform="rotate(0 332.5 452.6)" fill="#fff" stroke="#000" stroke-width="1.06"/>
<path d="M353.0,409.5 q-1,-10 6,-14.5 l0.5,-4 q3.5,-4 6.5,0 l0.5,2 q10,-3 16,3.5 q5,5.5 4,14 l0,10 q0,8 -7,11 l-0.5,3 q-3.5,4 -6.5,0 l-0.5,-2 q-9,2 -14.5,-3.5 q-4.5,-4.5 -4,-12 z" fill="#fff" stroke="#000" stroke-width="1"/>
<rect x="355.5" y="399.8" width="29" height="31.5" rx="14" transform="rotate(-12 370.0 415.5)" fill="#fff" stroke="#000" stroke-width="1.12"/>
<rect x="359.0" y="403.5" width="22" height="24" rx="10.5" transform="rotate(-12 370.0 415.5)" fill="#fff" stroke="#000" stroke-width="1.42"/>
<ellipse cx="363.5" cy="393.5" rx="1.9" ry="1.9" transform="rotate(0 363.5 393.5)" fill="#fff" stroke="#000" stroke-width="1.18"/>
<ellipse cx="375.5" cy="434.0" rx="1.9" ry="1.9" transform="rotate(0 375.5 434.0)" fill="#fff" stroke="#000" stroke-width="1.18"/>
<ellipse cx="370.5" cy="433.8" rx="1.5" ry="1.5" transform="rotate(0 370.5 433.8)" fill="#fff" stroke="#000" stroke-width="1.06"/>
<ellipse cx="271.7" cy="480.3" rx="5.6" ry="6.8" transform="rotate(20 271.7 480.3)" fill="#fff" stroke="#000" stroke-width="1.53"/>
<ellipse cx="272.1" cy="479.9" rx="3.8" ry="5" transform="rotate(20 272.1 479.9)" fill="#fff" stroke="#000" stroke-width="1.06"/>
<ellipse cx="267.2" cy="489.3" rx="1.8" ry="1.8" transform="rotate(0 267.2 489.3)" fill="#fff" stroke="#000" stroke-width="1.06"/>
<ellipse cx="353.8" cy="437.5" rx="5.6" ry="6.8" transform="rotate(20 353.8 437.5)" fill="#fff" stroke="#000" stroke-width="1.53"/>
<ellipse cx="354.2" cy="437.1" rx="3.8" ry="5" transform="rotate(20 354.2 437.1)" fill="#fff" stroke="#000" stroke-width="1.06"/>
<ellipse cx="349.3" cy="446.5" rx="1.8" ry="1.8" transform="rotate(0 349.3 446.5)" fill="#fff" stroke="#000" stroke-width="1.06"/>
<rect x="305.5" y="452.0" width="9" height="9" rx="2.5" transform="rotate(-15 310.0 456.5)" fill="#fff" stroke="#000" stroke-width="1.18"/>
<ellipse cx="459.2" cy="428.0" rx="12.2" ry="14.7" transform="rotate(8 459.2 428.0)" fill="none" stroke="#000" stroke-width="1.6"/>
<path d="M484,409 q3,-4 7,-1 l12,7 l8,25 l-3,14 l-3,9 q-3,4 -8,1 l-14,-13 q-5,-4 -5,-10 l3,-27 q1,-4 3,-5 z" fill="#fff" stroke="#000" stroke-width="1.1"/>
<ellipse cx="487.0" cy="414.0" rx="1.8" ry="1.8" transform="rotate(0 487.0 414.0)" fill="#fff" stroke="#000" stroke-width="0.9"/>
<ellipse cx="479.0" cy="438.0" rx="1.5" ry="1.5" transform="rotate(0 479.0 438.0)" fill="#fff" stroke="#000" stroke-width="0.9"/>
<ellipse cx="498.0" cy="456.0" rx="1.8" ry="1.8" transform="rotate(0 498.0 456.0)" fill="#fff" stroke="#000" stroke-width="0.9"/>
<ellipse cx="503.0" cy="435.0" rx="17" ry="20.5" transform="rotate(-8 503.0 435.0)" fill="#fff" stroke="#000" stroke-width="1.3"/>
<ellipse cx="504.5" cy="434.5" rx="15" ry="18.5" transform="rotate(-8 504.5 434.5)" fill="#fff" stroke="#000" stroke-width="0.9"/>
<ellipse cx="508.0" cy="432.5" rx="15.5" ry="19" transform="rotate(-8 508.0 432.5)" fill="#fff" stroke="#000" stroke-width="1.3"/>
<ellipse cx="508.0" cy="432.5" rx="13.5" ry="17" transform="rotate(-8 508.0 432.5)" fill="#fff" stroke="#000" stroke-width="1.0"/>
<ellipse cx="505.5" cy="434.0" rx="11" ry="15.5" transform="rotate(-8 505.5 434.0)" fill="#fff" stroke="#000" stroke-width="1.0"/>
<ellipse cx="503.5" cy="435.5" rx="8.5" ry="13" transform="rotate(-8 503.5 435.5)" fill="#fff" stroke="#000" stroke-width="0.9"/>
<path d="M499.00,425.00 L505.00,431.00 L505.00,437.00" fill="none" stroke="#000" stroke-width="0.9" />
<path d="M505.00,431.00 L514.00,425.00" fill="none" stroke="#000" stroke-width="0.9" />
<g transform="translate(506.5,404.8) rotate(6)" fill="#fff" stroke="#000" stroke-width="0.9"><rect x="0" y="-1.8" width="10" height="3.6"/>
<path d="M1.2,-1.8 l0.8,3.6"/>
<path d="M3.4,-1.8 l0.8,3.6"/>
<path d="M5.6,-1.8 l0.8,3.6"/>
<path d="M7.8,-1.8 l0.8,3.6"/>
<ellipse cx="12.8" cy="0" rx="3" ry="3.3" stroke-width="1.2"/><ellipse cx="13.2" cy="0" rx="1.4" ry="1.6"/></g>
<ellipse cx="556.0" cy="440.5" rx="17.5" ry="21" transform="rotate(-6 556.0 440.5)" fill="none" stroke="#000" stroke-width="1.4"/>
<ellipse cx="552.5" cy="441.5" rx="15.5" ry="20" transform="rotate(-6 552.5 441.5)" fill="none" stroke="#000" stroke-width="1.1"/>
<path d="M567,424.5 q8,8 6.5,21 q-1.5,10 -7,15.5" fill="none" stroke="#000" stroke-width="1"/>
<path d="M540.00,421.00 L548.00,415.50 L556.00,419.50 L555.00,424.00 L546.00,427.50 L540.50,425.00Z" fill="#fff" stroke="#000" stroke-width="1.1" />
<path d="M548.00,415.50 L552.00,413.50 L557.00,415.00 L556.00,419.50" fill="#fff" stroke="#000" stroke-width="1.0" />
<path d="M543.00,423.00 L552.00,419.50" fill="none" stroke="#000" stroke-width="0.8" />
<path d="M545.00,425.50 L554.00,422.00" fill="none" stroke="#000" stroke-width="0.8" />
<path d="M538.00,430.00 L541.00,426.00" fill="none" stroke="#000" stroke-width="0.9" />
<ellipse cx="244.5" cy="351.0" rx="6.5" ry="3.6" transform="rotate(-8 244.5 351.0)" fill="#fff" stroke="#000" stroke-width="1.1"/>
<ellipse cx="244.5" cy="349.0" rx="7" ry="3.8" transform="rotate(-8 244.5 349.0)" fill="#fff" stroke="#000" stroke-width="1.1"/>
<ellipse cx="244.4" cy="346.8" rx="7.8" ry="4.2" transform="rotate(-8 244.4 346.8)" fill="#fff" stroke="#000" stroke-width="1.2"/>
<ellipse cx="244.2" cy="344.6" rx="7.8" ry="4.2" transform="rotate(-8 244.2 344.6)" fill="#fff" stroke="#000" stroke-width="1.3"/>
<ellipse cx="244.2" cy="344.4" rx="4.2" ry="2.1" transform="rotate(-8 244.2 344.4)" fill="#fff" stroke="#000" stroke-width="1.0"/>
<g transform="translate(302.5,316) rotate(-20) scale(1.0)" fill="#fff" stroke="#000" stroke-width="1">
<path d="M-3.4,-3 L-3.4,9 Q-3.2,12 0,12.3 Q3.2,12 3.4,9 L3.4,-3 Z"/>
<ellipse cx="0" cy="-3" rx="3.4" ry="1.5"/>
<rect x="-2.4" y="-8" width="4.8" height="4.5"/>
<path d="M-2.4,-7.0 L2.4,-6.6" stroke-width="0.8"/>
<path d="M-2.4,-5.5 L2.4,-5.1" stroke-width="0.8"/>
<path d="M-2.4,-4.0 L2.4,-3.6" stroke-width="0.8"/>
<ellipse cx="0" cy="-8" rx="2.4" ry="1.1"/>
</g>
<g transform="translate(364,297) rotate(6) scale(1.1)" fill="#fff" stroke="#000" stroke-width="1">
<path d="M-3.4,-3 L-3.4,9 Q-3.2,12 0,12.3 Q3.2,12 3.4,9 L3.4,-3 Z"/>
<ellipse cx="0" cy="-3" rx="3.4" ry="1.5"/>
<rect x="-2.4" y="-8" width="4.8" height="4.5"/>
<path d="M-2.4,-7.0 L2.4,-6.6" stroke-width="0.8"/>
<path d="M-2.4,-5.5 L2.4,-5.1" stroke-width="0.8"/>
<path d="M-2.4,-4.0 L2.4,-3.6" stroke-width="0.8"/>
<ellipse cx="0" cy="-8" rx="2.4" ry="1.1"/>
</g>
<path d="M368.50,301.00 L381.50,301.00" stroke="#000" stroke-width="1" fill="none"/>
<path d="M307.50,328.50 L324.00,364.00" fill="none" stroke="#000" stroke-width="1.0" />
<path d="M362.00,311.00 L352.00,366.00" fill="none" stroke="#000" stroke-width="1.0" />
<path d="M226.30,705.00 L231.00,699.50 L236.00,697.00 L262.00,684.00 L266.00,680.50 L274.00,679.50 L279.00,676.00 L304.00,663.50 L308.00,660.00 L316.00,659.00 L321.00,655.50 L347.00,642.50 L351.00,639.00 L359.00,638.00 L364.00,634.50 L391.00,621.00 L393.00,617.00 L399.00,614.50 L409.00,607.50 L427.50,607.50 L433.50,604.50 L436.50,607.50 L462.50,611.00 L467.50,608.50 L469.00,612.50 L464.00,617.50 L441.00,616.50 L437.00,621.00 L436.00,628.00 L429.00,635.50 L392.00,654.50 L388.00,658.00 L380.00,659.00 L377.00,662.50 L348.00,677.00 L345.00,681.00 L337.00,682.00 L333.00,685.00 L304.00,700.00 L300.00,704.00 L293.00,704.50 L288.00,708.00 L280.00,711.50 L265.00,712.50 L232.00,708.50Z" fill="#fff" stroke="#000" stroke-width="1.8" />
<path d="M409.00,609.50 L428.00,609.50 L434.00,607.00 L437.00,609.50 L462.00,613.00" fill="none" stroke="#000" stroke-width="0.8" />
<path d="M401.00,616.00 L440.00,618.50" fill="none" stroke="#000" stroke-width="0.8" />
<ellipse cx="276.5" cy="697.5" rx="28" ry="11.5" transform="rotate(-14 276.5 697.5)" fill="#fff" stroke="#000" stroke-width="1.9"/>
<ellipse cx="276.5" cy="697.5" rx="25.5" ry="9.8" transform="rotate(-14 276.5 697.5)" fill="#fff" stroke="#000" stroke-width="0.8"/>
<ellipse cx="320.0" cy="674.5" rx="28" ry="11.5" transform="rotate(-14 320.0 674.5)" fill="#fff" stroke="#000" stroke-width="1.9"/>
<ellipse cx="320.0" cy="674.5" rx="25.5" ry="9.8" transform="rotate(-14 320.0 674.5)" fill="#fff" stroke="#000" stroke-width="0.8"/>
<ellipse cx="362.0" cy="653.5" rx="28" ry="11.5" transform="rotate(-14 362.0 653.5)" fill="#fff" stroke="#000" stroke-width="1.9"/>
<ellipse cx="362.0" cy="653.5" rx="25.5" ry="9.8" transform="rotate(-14 362.0 653.5)" fill="#fff" stroke="#000" stroke-width="0.8"/>
<ellipse cx="406.0" cy="631.0" rx="28" ry="11.5" transform="rotate(-14 406.0 631.0)" fill="#fff" stroke="#000" stroke-width="1.9"/>
<ellipse cx="406.0" cy="631.0" rx="25.5" ry="9.8" transform="rotate(-14 406.0 631.0)" fill="#fff" stroke="#000" stroke-width="0.8"/>
<ellipse cx="233.5" cy="703.5" rx="2.6" ry="1.5" transform="rotate(-14 233.5 703.5)" fill="#fff" stroke="#000" stroke-width="1.0"/>
<ellipse cx="256.0" cy="690.0" rx="2.6" ry="1.5" transform="rotate(-14 256.0 690.0)" fill="#fff" stroke="#000" stroke-width="1.0"/>
<ellipse cx="275.0" cy="712.0" rx="2.6" ry="1.5" transform="rotate(-14 275.0 712.0)" fill="#fff" stroke="#000" stroke-width="1.0"/>
<ellipse cx="299.0" cy="668.5" rx="2.6" ry="1.5" transform="rotate(-14 299.0 668.5)" fill="#fff" stroke="#000" stroke-width="1.0"/>
<ellipse cx="318.0" cy="690.5" rx="2.6" ry="1.5" transform="rotate(-14 318.0 690.5)" fill="#fff" stroke="#000" stroke-width="1.0"/>
<ellipse cx="341.0" cy="647.0" rx="2.6" ry="1.5" transform="rotate(-14 341.0 647.0)" fill="#fff" stroke="#000" stroke-width="1.0"/>
<ellipse cx="360.0" cy="669.0" rx="2.6" ry="1.5" transform="rotate(-14 360.0 669.0)" fill="#fff" stroke="#000" stroke-width="1.0"/>
<ellipse cx="383.0" cy="626.0" rx="2.6" ry="1.5" transform="rotate(-14 383.0 626.0)" fill="#fff" stroke="#000" stroke-width="1.0"/>
<ellipse cx="403.0" cy="647.5" rx="2.6" ry="1.5" transform="rotate(-14 403.0 647.5)" fill="#fff" stroke="#000" stroke-width="1.0"/>
<ellipse cx="430.0" cy="627.0" rx="2.6" ry="1.5" transform="rotate(-14 430.0 627.0)" fill="#fff" stroke="#000" stroke-width="1.0"/>
<ellipse cx="404.0" cy="613.5" rx="2.6" ry="1.5" transform="rotate(-14 404.0 613.5)" fill="#fff" stroke="#000" stroke-width="1.0"/>
<ellipse cx="466.0" cy="612.5" rx="2.6" ry="1.5" transform="rotate(-14 466.0 612.5)" fill="#fff" stroke="#000" stroke-width="1.0"/>
<ellipse cx="247.0" cy="699.5" rx="0.9" ry="0.7" transform="rotate(0 247.0 699.5)" fill="#fff" stroke="#000" stroke-width="0.7"/>
<ellipse cx="262.0" cy="709.0" rx="0.9" ry="0.7" transform="rotate(0 262.0 709.0)" fill="#fff" stroke="#000" stroke-width="0.7"/>
<ellipse cx="290.0" cy="677.0" rx="0.9" ry="0.7" transform="rotate(0 290.0 677.0)" fill="#fff" stroke="#000" stroke-width="0.7"/>
<ellipse cx="305.0" cy="696.0" rx="0.9" ry="0.7" transform="rotate(0 305.0 696.0)" fill="#fff" stroke="#000" stroke-width="0.7"/>
<ellipse cx="332.0" cy="656.0" rx="0.9" ry="0.7" transform="rotate(0 332.0 656.0)" fill="#fff" stroke="#000" stroke-width="0.7"/>
<ellipse cx="347.0" cy="674.5" rx="0.9" ry="0.7" transform="rotate(0 347.0 674.5)" fill="#fff" stroke="#000" stroke-width="0.7"/>
<ellipse cx="376.0" cy="634.0" rx="0.9" ry="0.7" transform="rotate(0 376.0 634.0)" fill="#fff" stroke="#000" stroke-width="0.7"/>
<ellipse cx="391.0" cy="652.5" rx="0.9" ry="0.7" transform="rotate(0 391.0 652.5)" fill="#fff" stroke="#000" stroke-width="0.7"/>
<ellipse cx="420.0" cy="622.0" rx="0.9" ry="0.7" transform="rotate(0 420.0 622.0)" fill="#fff" stroke="#000" stroke-width="0.7"/>
<ellipse cx="270.0" cy="681.0" rx="4" ry="1.8" transform="rotate(-14 270.0 681.0)" fill="#fff" stroke="#000" stroke-width="0.9"/>
<ellipse cx="312.0" cy="660.0" rx="4" ry="1.8" transform="rotate(-14 312.0 660.0)" fill="#fff" stroke="#000" stroke-width="0.9"/>
<ellipse cx="355.0" cy="639.0" rx="4" ry="1.8" transform="rotate(-14 355.0 639.0)" fill="#fff" stroke="#000" stroke-width="0.9"/>
<path d="M444.00,427.00 L368.00,413.00" fill="none" stroke="#000" stroke-width="1.0" />
<path d="M247.00,357.50 L259.00,396.00" fill="none" stroke="#000" stroke-width="1.0" />
<path d="M341.00,330.50 L344.00,346.00" fill="none" stroke="#000" stroke-width="1.0" />
<path d="M382.50,335.50 L386.00,352.00" fill="none" stroke="#000" stroke-width="1.0" />
<path d="M137.50,383.75 L152.50,436.00" fill="none" stroke="#000" stroke-width="1.0" />
<path d="M182.50,360.50 L199.00,418.00" fill="none" stroke="#000" stroke-width="1.0" />
<path d="M172.50,411.00 L176.70,423.00" fill="none" stroke="#000" stroke-width="1.0" />
<path d="M216.00,389.00 L222.00,410.00" fill="none" stroke="#000" stroke-width="1.0" />
<g id="wm" fill="#000" opacity="0.204">
<text transform="translate(93,544.5) rotate(-33) scale(0.622,1)" dx="0 0 0 0 0 0 0 0 0 0 -7.8 -4.7 -7.8" font-size="88" font-weight="bold" fill="#000" stroke="#000" stroke-width="1.5" stroke-linejoin="miter" vector-effect="non-scaling-stroke" style="font-family:'DejaVu Sans','Liberation Sans',sans-serif">PartsRepublik</text>
<path d="M422,245 L470,316.5" stroke="#000" stroke-width="8" stroke-linecap="round" fill="none"/>
<circle cx="422" cy="245" r="6.3"/><circle cx="470" cy="316.5" r="6.3"/>
<path d="M437.3,243.5 Q445,230 454.8,225.5 Q464,222.5 474.7,223.2 Q484,222 489.8,217.3 Q495,211 498,199.8 L526,241.8 Q523,256 514.3,266.3 Q504,271 493.3,269.8 Q485,267 479.3,268.7 Q470,276 463,289.7 Z"/>
<path d="M498.6,243.4 L498.6,249.6 L492.9,249.8 L491.2,253.8 L495.1,258.0 L490.8,262.3 L486.6,258.4 L482.6,260.1 L482.4,265.8 L476.2,265.8 L476.0,260.1 L472.0,258.4 L467.8,262.3 L463.5,258.0 L467.4,253.8 L465.7,249.8 L460.0,249.6 L460.0,243.4 L465.7,243.2 L467.4,239.2 L463.5,235.0 L467.8,230.7 L472.0,234.6 L476.0,232.9 L476.2,227.2 L482.4,227.2 L482.6,232.9 L486.6,234.6 L490.8,230.7 L495.1,235.0 L491.2,239.2 L492.9,243.2Z" fill="none" stroke="#fff" stroke-width="2.3" stroke-linejoin="round"/>
<circle cx="479.3" cy="246.5" r="6.8" fill="none" stroke="#fff" stroke-width="2.3"/>
</g>
</svg>
</body></html>
